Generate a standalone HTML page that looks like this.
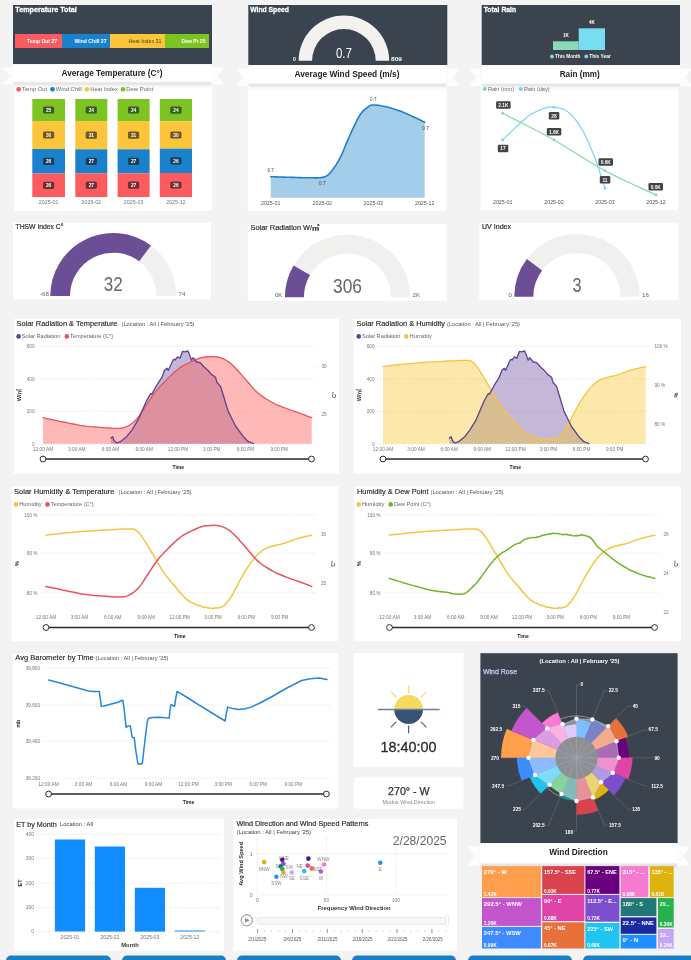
<!DOCTYPE html>
<html lang="en"><head><meta charset="utf-8"><title>Weather Dashboard</title>
<style>html,body{margin:0;padding:0;background:#f3f3f3;}body{width:691px;height:960px;overflow:hidden;font-family:"Liberation Sans", sans-serif;}svg text{font-family:"Liberation Sans","Noto Sans CJK JP",sans-serif;}</style>
</head><body>
<svg width="691" height="960" viewBox="0 0 691 960" font-family='"Liberation Sans", sans-serif' style="display:block"><rect x="0.0" y="0.0" width="691.0" height="960.0" fill="#f3f3f3" />
<defs><linearGradient id="sh" x1="0" y1="0" x2="0" y2="1"><stop offset="0" stop-color="#000" stop-opacity="0.015"/><stop offset="0.45" stop-color="#000" stop-opacity="0.07"/><stop offset="1" stop-color="#000" stop-opacity="0"/></linearGradient></defs>
<rect x="573.0" y="0.0" width="106.0" height="1.6" fill="#fbfbfb" />
<rect x="573.0" y="1.6" width="106.0" height="0.6" fill="#e9e9e9" />
<rect x="13.9" y="84.5" width="198.3" height="126.2" fill="#fff" />
<rect x="13.0" y="5.0" width="199.0" height="59.2" fill="#3a434e" />
<text x="15.3" y="12.0" font-size="7.8" fill="#fff" font-weight="bold" textLength="61.5" lengthAdjust="spacingAndGlyphs" stroke="#fff" stroke-width="0.3">Temperature Total</text>
<rect x="15.0" y="34.0" width="47.0" height="14.0" fill="#fc5c60" />
<rect x="62.0" y="34.0" width="48.0" height="14.0" fill="#1a81cc" />
<rect x="110.0" y="34.0" width="55.0" height="14.0" fill="#fdc53b" />
<rect x="165.0" y="34.0" width="44.0" height="14.0" fill="#7bc421" />
<text x="57.0" y="43.0" font-size="5.2" fill="#fff" font-weight="bold" text-anchor="end" textLength="30.0" lengthAdjust="spacingAndGlyphs">Temp Out 27</text>
<text x="106.5" y="43.0" font-size="5.2" fill="#fff" font-weight="bold" text-anchor="end" textLength="32.0" lengthAdjust="spacingAndGlyphs">Wind Chill 27</text>
<text x="161.5" y="43.0" font-size="5.2" fill="#4d4013" text-anchor="end" textLength="33.0" lengthAdjust="spacingAndGlyphs">Heat Index 31</text>
<text x="205.5" y="43.0" font-size="5.2" fill="#fff" font-weight="bold" text-anchor="end" textLength="24.0" lengthAdjust="spacingAndGlyphs">Dew Pt 25</text>
<polygon points="2.5,67.6 13.0,67.6 13.0,84.4 2.5,84.4 10.1,76.0" fill="#fdfdfd"/>
<polygon points="224.6,67.6 212.0,67.6 212.0,84.4 224.6,84.4 217.2,76.0" fill="#fdfdfd"/>
<rect x="13.9" y="80.7" width="197.2" height="1.5" fill="#fff" />
<rect x="13.9" y="81.2" width="197.2" height="7.0" fill="url(#sh)" />
<rect x="13.0" y="64.2" width="199.0" height="17.0" fill="#fff" />
<text x="112.0" y="75.8" font-size="9" fill="#222" font-weight="bold" text-anchor="middle" textLength="101.0" lengthAdjust="spacingAndGlyphs">Average Temperature (C°)</text>
<circle cx="18.7" cy="89.3" r="2.4" fill="#fc5c60"/>
<text x="22.0" y="91.2" font-size="5.6" fill="#666" textLength="25.0" lengthAdjust="spacingAndGlyphs">Temp Out</text>
<circle cx="52.5" cy="89.3" r="2.4" fill="#1a81cc"/>
<text x="55.8" y="91.2" font-size="5.6" fill="#666" textLength="26.0" lengthAdjust="spacingAndGlyphs">Wind Chill</text>
<circle cx="87" cy="89.3" r="2.4" fill="#fdc53b"/>
<text x="90.3" y="91.2" font-size="5.6" fill="#666" textLength="27.5" lengthAdjust="spacingAndGlyphs">Heat Index</text>
<circle cx="123" cy="89.3" r="2.4" fill="#7bc421"/>
<text x="126.3" y="91.2" font-size="5.6" fill="#666" textLength="27.0" lengthAdjust="spacingAndGlyphs">Dew Point</text>
<rect x="32.3" y="99.0" width="32.7" height="22.0" fill="#7bc421" />
<rect x="43.0" y="106.4" width="11.2" height="7.2" fill="#3d5a22" rx="1.5"/>
<text x="48.6" y="111.9" font-size="4.8" fill="#fff" font-weight="bold" text-anchor="middle">25</text>
<rect x="32.3" y="121.0" width="32.7" height="28.0" fill="#fdc53b" />
<rect x="43.0" y="131.4" width="11.2" height="7.2" fill="#6e5a1c" rx="1.5"/>
<text x="48.6" y="136.9" font-size="4.8" fill="#fff" font-weight="bold" text-anchor="middle">30</text>
<rect x="32.3" y="149.0" width="32.7" height="24.5" fill="#1a81cc" />
<rect x="43.0" y="157.7" width="11.2" height="7.2" fill="#1d3f5c" rx="1.5"/>
<text x="48.6" y="163.2" font-size="4.8" fill="#fff" font-weight="bold" text-anchor="middle">26</text>
<rect x="32.3" y="173.5" width="32.7" height="23.5" fill="#fc5c60" />
<rect x="43.0" y="181.7" width="11.2" height="7.2" fill="#6e3133" rx="1.5"/>
<text x="48.6" y="187.2" font-size="4.8" fill="#fff" font-weight="bold" text-anchor="middle">26</text>
<text x="48.6" y="204.0" font-size="5.2" fill="#777" text-anchor="middle" textLength="19.5" lengthAdjust="spacingAndGlyphs">2025-01</text>
<rect x="75.3" y="99.0" width="32.0" height="22.0" fill="#7bc421" />
<rect x="85.7" y="106.4" width="11.2" height="7.2" fill="#3d5a22" rx="1.5"/>
<text x="91.3" y="111.9" font-size="4.8" fill="#fff" font-weight="bold" text-anchor="middle">24</text>
<rect x="75.3" y="121.0" width="32.0" height="28.3" fill="#fdc53b" />
<rect x="85.7" y="131.6" width="11.2" height="7.2" fill="#6e5a1c" rx="1.5"/>
<text x="91.3" y="137.1" font-size="4.8" fill="#fff" font-weight="bold" text-anchor="middle">31</text>
<rect x="75.3" y="149.3" width="32.0" height="24.0" fill="#1a81cc" />
<rect x="85.7" y="157.7" width="11.2" height="7.2" fill="#1d3f5c" rx="1.5"/>
<text x="91.3" y="163.2" font-size="4.8" fill="#fff" font-weight="bold" text-anchor="middle">27</text>
<rect x="75.3" y="173.3" width="32.0" height="23.7" fill="#fc5c60" />
<rect x="85.7" y="181.6" width="11.2" height="7.2" fill="#6e3133" rx="1.5"/>
<text x="91.3" y="187.1" font-size="4.8" fill="#fff" font-weight="bold" text-anchor="middle">27</text>
<text x="91.3" y="204.0" font-size="5.2" fill="#777" text-anchor="middle" textLength="19.5" lengthAdjust="spacingAndGlyphs">2025-02</text>
<rect x="117.6" y="99.0" width="32.0" height="22.0" fill="#7bc421" />
<rect x="128.0" y="106.4" width="11.2" height="7.2" fill="#3d5a22" rx="1.5"/>
<text x="133.6" y="111.9" font-size="4.8" fill="#fff" font-weight="bold" text-anchor="middle">24</text>
<rect x="117.6" y="121.0" width="32.0" height="28.3" fill="#fdc53b" />
<rect x="128.0" y="131.6" width="11.2" height="7.2" fill="#6e5a1c" rx="1.5"/>
<text x="133.6" y="137.1" font-size="4.8" fill="#fff" font-weight="bold" text-anchor="middle">31</text>
<rect x="117.6" y="149.3" width="32.0" height="24.0" fill="#1a81cc" />
<rect x="128.0" y="157.7" width="11.2" height="7.2" fill="#1d3f5c" rx="1.5"/>
<text x="133.6" y="163.2" font-size="4.8" fill="#fff" font-weight="bold" text-anchor="middle">27</text>
<rect x="117.6" y="173.3" width="32.0" height="23.7" fill="#fc5c60" />
<rect x="128.0" y="181.6" width="11.2" height="7.2" fill="#6e3133" rx="1.5"/>
<text x="133.6" y="187.1" font-size="4.8" fill="#fff" font-weight="bold" text-anchor="middle">27</text>
<text x="133.6" y="204.0" font-size="5.2" fill="#777" text-anchor="middle" textLength="19.5" lengthAdjust="spacingAndGlyphs">2025-03</text>
<rect x="159.8" y="99.0" width="32.2" height="22.3" fill="#7bc421" />
<rect x="170.3" y="106.6" width="11.2" height="7.2" fill="#3d5a22" rx="1.5"/>
<text x="175.9" y="112.1" font-size="4.8" fill="#fff" font-weight="bold" text-anchor="middle">24</text>
<rect x="159.8" y="121.3" width="32.2" height="27.4" fill="#fdc53b" />
<rect x="170.3" y="131.4" width="11.2" height="7.2" fill="#6e5a1c" rx="1.5"/>
<text x="175.9" y="136.9" font-size="4.8" fill="#fff" font-weight="bold" text-anchor="middle">30</text>
<rect x="159.8" y="148.7" width="32.2" height="24.3" fill="#1a81cc" />
<rect x="170.3" y="157.2" width="11.2" height="7.2" fill="#1d3f5c" rx="1.5"/>
<text x="175.9" y="162.8" font-size="4.8" fill="#fff" font-weight="bold" text-anchor="middle">26</text>
<rect x="159.8" y="173.0" width="32.2" height="24.0" fill="#fc5c60" />
<rect x="170.3" y="181.4" width="11.2" height="7.2" fill="#6e3133" rx="1.5"/>
<text x="175.9" y="186.9" font-size="4.8" fill="#fff" font-weight="bold" text-anchor="middle">26</text>
<text x="175.9" y="204.0" font-size="5.2" fill="#777" text-anchor="middle" textLength="19.5" lengthAdjust="spacingAndGlyphs">2025-12</text>
<rect x="247.7" y="86.0" width="199.0" height="124.7" fill="#fff" />
<rect x="248.3" y="5.0" width="199.0" height="60.2" fill="#3a434e" />
<text x="250.3" y="12.0" font-size="7.8" fill="#fff" font-weight="bold" textLength="38.5" lengthAdjust="spacingAndGlyphs" stroke="#fff" stroke-width="0.3">Wind Speed</text>
<path d="M298.6,60.8 A45.3,45.3 0 0 1 389.2,60.8 L375.7,60.8 A31.8,31.8 0 0 0 312.1,60.8 Z" fill="#f3f2f1"/>
<path d="M298.6,60.8 A45.3,45.3 0 0 1 298.6,60.7 L312.1,60.7 A31.8,31.8 0 0 0 312.1,60.8 Z" fill="#f3f2f1"/>
<text x="343.9" y="58.2" font-size="14.3" fill="#fff" text-anchor="middle" textLength="16.0" lengthAdjust="spacingAndGlyphs">0.7</text>
<text x="296.0" y="61.2" font-size="5.2" fill="#fff" font-weight="bold" text-anchor="end">0</text>
<text x="391.0" y="61.2" font-size="5.2" fill="#fff" font-weight="bold" textLength="11.0" lengthAdjust="spacingAndGlyphs">809</text>
<polygon points="235.7,68.6 248.3,68.6 248.3,85.9 235.7,85.9 243.1,77.2" fill="#fdfdfd"/>
<polygon points="459.9,68.6 447.3,68.6 447.3,85.9 459.9,85.9 452.5,77.2" fill="#fdfdfd"/>
<rect x="249.2" y="82.2" width="197.2" height="1.5" fill="#fff" />
<rect x="249.2" y="82.7" width="197.2" height="7.0" fill="url(#sh)" />
<rect x="248.3" y="65.2" width="199.0" height="17.5" fill="#fff" />
<text x="347.0" y="76.5" font-size="9" fill="#222" font-weight="bold" text-anchor="middle" textLength="105.0" lengthAdjust="spacingAndGlyphs">Average Wind Speed (m/s)</text>
<path d="M270.7,176.7 L271.8,176.7 L273.3,176.8 L275.0,176.8 L277.0,176.9 L279.1,177.0 L281.3,177.0 L283.6,177.1 L285.8,177.2 L288.0,177.2 L290.0,177.3 L292.0,177.4 L294.1,177.4 L296.2,177.5 L298.3,177.6 L300.4,177.6 L302.5,177.7 L304.5,177.7 L306.5,177.8 L308.3,177.8 L310.0,177.8 L311.6,177.8 L313.0,177.8 L314.4,177.9 L315.7,177.9 L316.9,177.9 L318.1,177.9 L319.2,177.8 L320.3,177.8 L321.3,177.6 L322.3,177.4 L323.2,177.2 L324.1,176.9 L324.9,176.7 L325.6,176.4 L326.3,176.1 L327.0,175.7 L327.7,175.2 L328.4,174.6 L329.2,173.9 L330.0,173.0 L330.9,172.0 L331.9,170.8 L332.8,169.5 L333.8,168.1 L334.9,166.7 L335.9,165.1 L336.9,163.4 L338.0,161.7 L339.0,159.9 L340.0,158.0 L341.0,156.0 L342.0,153.9 L343.0,151.6 L344.0,149.2 L345.0,146.8 L346.0,144.4 L347.0,141.9 L348.0,139.5 L349.0,137.2 L350.0,135.0 L351.0,132.8 L352.0,130.6 L353.1,128.4 L354.1,126.2 L355.1,124.1 L356.1,122.0 L357.1,120.0 L358.1,118.2 L359.1,116.5 L360.0,115.0 L360.9,113.7 L361.8,112.5 L362.6,111.5 L363.5,110.6 L364.3,109.9 L365.1,109.2 L365.9,108.6 L366.6,108.0 L367.3,107.5 L368.0,107.0 L368.6,106.5 L369.1,106.2 L369.6,105.8 L370.0,105.6 L370.4,105.4 L370.8,105.3 L371.3,105.2 L371.9,105.1 L372.5,105.0 L373.3,105.0 L374.2,105.0 L375.2,105.0 L376.2,105.1 L377.4,105.2 L378.5,105.3 L379.8,105.5 L381.0,105.7 L382.3,106.0 L383.7,106.2 L385.0,106.5 L386.4,106.8 L387.8,107.2 L389.3,107.6 L390.8,108.0 L392.3,108.4 L393.8,108.9 L395.4,109.4 L396.9,109.9 L398.5,110.5 L400.0,111.0 L401.5,111.6 L403.1,112.2 L404.7,112.9 L406.3,113.5 L407.8,114.2 L409.4,114.9 L410.9,115.6 L412.3,116.3 L413.7,116.9 L415.0,117.5 L416.2,118.1 L417.4,118.6 L418.6,119.2 L419.7,119.8 L420.8,120.3 L421.8,120.8 L422.7,121.3 L423.5,121.7 L424.1,122.0 L424.7,122.3 L424.7,197.8 L270.7,197.8 Z" fill="#a4cdea" fill-opacity="1"/>
<path d="M270.7,176.7 L271.8,176.7 L273.3,176.8 L275.0,176.8 L277.0,176.9 L279.1,177.0 L281.3,177.0 L283.6,177.1 L285.8,177.2 L288.0,177.2 L290.0,177.3 L292.0,177.4 L294.1,177.4 L296.2,177.5 L298.3,177.6 L300.4,177.6 L302.5,177.7 L304.5,177.7 L306.5,177.8 L308.3,177.8 L310.0,177.8 L311.6,177.8 L313.0,177.8 L314.4,177.9 L315.7,177.9 L316.9,177.9 L318.1,177.9 L319.2,177.8 L320.3,177.8 L321.3,177.6 L322.3,177.4 L323.2,177.2 L324.1,176.9 L324.9,176.7 L325.6,176.4 L326.3,176.1 L327.0,175.7 L327.7,175.2 L328.4,174.6 L329.2,173.9 L330.0,173.0 L330.9,172.0 L331.9,170.8 L332.8,169.5 L333.8,168.1 L334.9,166.7 L335.9,165.1 L336.9,163.4 L338.0,161.7 L339.0,159.9 L340.0,158.0 L341.0,156.0 L342.0,153.9 L343.0,151.6 L344.0,149.2 L345.0,146.8 L346.0,144.4 L347.0,141.9 L348.0,139.5 L349.0,137.2 L350.0,135.0 L351.0,132.8 L352.0,130.6 L353.1,128.4 L354.1,126.2 L355.1,124.1 L356.1,122.0 L357.1,120.0 L358.1,118.2 L359.1,116.5 L360.0,115.0 L360.9,113.7 L361.8,112.5 L362.6,111.5 L363.5,110.6 L364.3,109.9 L365.1,109.2 L365.9,108.6 L366.6,108.0 L367.3,107.5 L368.0,107.0 L368.6,106.5 L369.1,106.2 L369.6,105.8 L370.0,105.6 L370.4,105.4 L370.8,105.3 L371.3,105.2 L371.9,105.1 L372.5,105.0 L373.3,105.0 L374.2,105.0 L375.2,105.0 L376.2,105.1 L377.4,105.2 L378.5,105.3 L379.8,105.5 L381.0,105.7 L382.3,106.0 L383.7,106.2 L385.0,106.5 L386.4,106.8 L387.8,107.2 L389.3,107.6 L390.8,108.0 L392.3,108.4 L393.8,108.9 L395.4,109.4 L396.9,109.9 L398.5,110.5 L400.0,111.0 L401.5,111.6 L403.1,112.2 L404.7,112.9 L406.3,113.5 L407.8,114.2 L409.4,114.9 L410.9,115.6 L412.3,116.3 L413.7,116.9 L415.0,117.5 L416.2,118.1 L417.4,118.6 L418.6,119.2 L419.7,119.8 L420.8,120.3 L421.8,120.8 L422.7,121.3 L423.5,121.7 L424.1,122.0 L424.7,122.3" fill="none" stroke="#1f7fc7" stroke-width="1.6" stroke-linejoin="round" stroke-linecap="round" />
<text x="270.7" y="205.2" font-size="5.2" fill="#555" text-anchor="middle" textLength="19.5" lengthAdjust="spacingAndGlyphs">2025-01</text>
<text x="322.3" y="205.2" font-size="5.2" fill="#555" text-anchor="middle" textLength="19.5" lengthAdjust="spacingAndGlyphs">2025-02</text>
<text x="373.3" y="205.2" font-size="5.2" fill="#555" text-anchor="middle" textLength="19.5" lengthAdjust="spacingAndGlyphs">2025-03</text>
<text x="424.7" y="205.2" font-size="5.2" fill="#555" text-anchor="middle" textLength="19.5" lengthAdjust="spacingAndGlyphs">2025-12</text>
<text x="270.7" y="172.0" font-size="4.6" fill="#444" text-anchor="middle">0.7</text>
<text x="322.3" y="185.0" font-size="4.6" fill="#444" text-anchor="middle">0.7</text>
<text x="373.3" y="101.0" font-size="4.6" fill="#444" text-anchor="middle">0.7</text>
<text x="425.5" y="129.5" font-size="4.6" fill="#444" text-anchor="middle">0.7</text>
<rect x="480.7" y="86.0" width="197.6" height="124.0" fill="#fff" />
<rect x="481.7" y="5.0" width="198.3" height="60.2" fill="#3a434e" />
<text x="483.7" y="12.0" font-size="7.8" fill="#fff" font-weight="bold" textLength="32.5" lengthAdjust="spacingAndGlyphs" stroke="#fff" stroke-width="0.3">Total Rain</text>
<rect x="553.0" y="41.3" width="25.7" height="8.7" fill="#8adbb3" />
<rect x="578.7" y="28.3" width="26.3" height="21.7" fill="#78dcf2" />
<text x="566.0" y="36.7" font-size="4.6" fill="#fff" font-weight="bold" text-anchor="middle">1K</text>
<text x="592.0" y="23.7" font-size="4.6" fill="#fff" font-weight="bold" text-anchor="middle">4K</text>
<circle cx="552" cy="56.5" r="2" fill="#86d8b0"/>
<text x="555.0" y="58.3" font-size="4.8" fill="#fff" font-weight="bold" textLength="25.5" lengthAdjust="spacingAndGlyphs">This Month</text>
<circle cx="586.3" cy="56.5" r="2" fill="#74d5ee"/>
<text x="589.3" y="58.3" font-size="4.8" fill="#fff" font-weight="bold" textLength="21.5" lengthAdjust="spacingAndGlyphs">This Year</text>
<polygon points="469.1,68.6 481.7,68.6 481.7,85.9 469.1,85.9 476.5,77.2" fill="#fdfdfd"/>
<polygon points="692.6,68.6 680.0,68.6 680.0,85.9 692.6,85.9 685.2,77.2" fill="#fdfdfd"/>
<rect x="482.6" y="82.2" width="196.5" height="1.5" fill="#fff" />
<rect x="482.6" y="82.7" width="196.5" height="7.0" fill="url(#sh)" />
<rect x="481.7" y="65.2" width="198.3" height="17.5" fill="#fff" />
<text x="579.7" y="76.5" font-size="9" fill="#222" font-weight="bold" text-anchor="middle" textLength="40.0" lengthAdjust="spacingAndGlyphs">Rain (mm)</text>
<circle cx="484.7" cy="89" r="2.1" fill="#86d8b0"/>
<text x="488.0" y="90.9" font-size="5.6" fill="#666" textLength="26.0" lengthAdjust="spacingAndGlyphs">Rain (mm)</text>
<circle cx="520.7" cy="89" r="2.1" fill="#74d5ee"/>
<text x="524.0" y="90.9" font-size="5.6" fill="#666" textLength="25.5" lengthAdjust="spacingAndGlyphs">Rain (day)</text>
<path d="M502.7,113.3 L508.3,116.2 L516.0,120.1 L525.2,124.7 L535.0,129.8 L544.9,135.0 L554.0,140.0 L562.5,145.0 L571.0,150.2 L579.5,155.5 L588.0,160.8 L596.5,165.9 L605.0,170.7 L614.1,175.4 L623.9,180.2 L633.7,184.8 L642.8,188.9 L650.5,192.4 L656.0,195.0" fill="none" stroke="#86d8b0" stroke-width="1.2" stroke-linejoin="round" stroke-linecap="round" />
<path d="M502.7,140.0 L503.6,139.1 L504.8,137.9 L506.3,136.4 L507.9,134.8 L509.6,133.1 L511.4,131.4 L513.2,129.6 L515.0,128.0 L516.7,126.4 L518.6,124.7 L520.4,122.9 L522.3,121.2 L524.3,119.5 L526.2,117.9 L528.1,116.3 L530.0,115.0 L531.9,113.8 L533.9,112.7 L535.9,111.7 L537.9,110.7 L539.8,109.9 L541.7,109.2 L543.4,108.5 L545.0,108.0 L546.4,107.6 L547.6,107.3 L548.7,107.1 L549.8,107.0 L550.7,107.0 L551.8,107.1 L552.8,107.2 L554.0,107.3 L555.3,107.4 L556.6,107.6 L558.0,107.8 L559.4,108.0 L560.9,108.4 L562.3,108.8 L563.7,109.3 L565.0,110.0 L566.3,110.8 L567.6,111.6 L568.8,112.6 L570.1,113.7 L571.3,114.8 L572.5,116.1 L573.8,117.5 L575.0,119.0 L576.2,120.6 L577.5,122.3 L578.8,124.2 L580.0,126.1 L581.2,128.2 L582.5,130.3 L583.8,132.6 L585.0,135.0 L586.3,137.6 L587.6,140.4 L588.9,143.3 L590.2,146.4 L591.5,149.4 L592.8,152.4 L593.9,155.3 L595.0,158.0 L596.0,160.5 L596.8,163.0 L597.6,165.4 L598.4,167.7 L599.1,169.9 L599.7,172.0 L600.4,174.1 L601.0,176.0 L601.6,177.9 L602.2,179.8 L602.8,181.6 L603.4,183.3 L603.9,184.8 L604.3,186.2 L604.7,187.4 L605.0,188.3" fill="none" stroke="#74d5ee" stroke-width="1.2" stroke-linejoin="round" stroke-linecap="round" />
<circle cx="502.7" cy="113.3" r="1.4" fill="#86d8b0"/>
<circle cx="554" cy="140" r="1.4" fill="#86d8b0"/>
<circle cx="605" cy="170.7" r="1.4" fill="#86d8b0"/>
<circle cx="656" cy="195" r="1.4" fill="#86d8b0"/>
<circle cx="502.7" cy="140" r="1.4" fill="#74d5ee"/>
<circle cx="554" cy="107.3" r="1.4" fill="#74d5ee"/>
<circle cx="605" cy="188.3" r="1.4" fill="#74d5ee"/>
<rect x="496.1" y="101.2" width="14.5" height="7.6" fill="#444" rx="1.3"/>
<text x="503.3" y="106.8" font-size="4.8" fill="#fff" font-weight="bold" text-anchor="middle">2.1K</text>
<rect x="497.8" y="144.7" width="10.5" height="7.6" fill="#444" rx="1.3"/>
<text x="503.0" y="150.3" font-size="4.8" fill="#fff" font-weight="bold" text-anchor="middle">17</text>
<rect x="548.8" y="111.9" width="10.5" height="7.6" fill="#444" rx="1.3"/>
<text x="554.0" y="117.5" font-size="4.8" fill="#fff" font-weight="bold" text-anchor="middle">28</text>
<rect x="546.8" y="127.9" width="14.5" height="7.6" fill="#444" rx="1.3"/>
<text x="554.0" y="133.5" font-size="4.8" fill="#fff" font-weight="bold" text-anchor="middle">1.6K</text>
<rect x="598.5" y="158.2" width="14.5" height="7.6" fill="#444" rx="1.3"/>
<text x="605.7" y="163.8" font-size="4.8" fill="#fff" font-weight="bold" text-anchor="middle">0.6K</text>
<rect x="599.8" y="175.9" width="10.5" height="7.6" fill="#444" rx="1.3"/>
<text x="605.0" y="181.5" font-size="4.8" fill="#fff" font-weight="bold" text-anchor="middle">11</text>
<rect x="648.5" y="182.9" width="14.5" height="7.6" fill="#444" rx="1.3"/>
<text x="655.7" y="188.5" font-size="4.8" fill="#fff" font-weight="bold" text-anchor="middle">0.0K</text>
<text x="502.7" y="203.6" font-size="5.2" fill="#555" text-anchor="middle" textLength="19.5" lengthAdjust="spacingAndGlyphs">2025-01</text>
<text x="554.0" y="203.6" font-size="5.2" fill="#555" text-anchor="middle" textLength="19.5" lengthAdjust="spacingAndGlyphs">2025-02</text>
<text x="605.0" y="203.6" font-size="5.2" fill="#555" text-anchor="middle" textLength="19.5" lengthAdjust="spacingAndGlyphs">2025-03</text>
<text x="656.0" y="203.6" font-size="5.2" fill="#555" text-anchor="middle" textLength="19.5" lengthAdjust="spacingAndGlyphs">2025-12</text>
<rect x="13.0" y="222.7" width="198.0" height="76.6" fill="#fff" />
<text x="15.5" y="229.3" font-size="6.6" fill="#333" textLength="48.0" lengthAdjust="spacingAndGlyphs" stroke="#333" stroke-width="0.2">THSW Index C°</text>
<path d="M50.3,296.0 A63,63 0 0 1 176.3,296.0 L156.6,296.0 A43.3,43.3 0 0 0 70.0,296.0 Z" fill="#f1f0ef"/>
<path d="M50.3,296.0 A63,63 0 0 1 151.0,245.5 L139.2,261.3 A43.3,43.3 0 0 0 70.0,296.0 Z" fill="#6b4e96"/>
<text x="113.3" y="291.2" font-size="19.8" fill="#666" text-anchor="middle" textLength="19.0" lengthAdjust="spacingAndGlyphs">32</text>
<text x="49.0" y="296.0" font-size="6.2" fill="#666" text-anchor="end">-68</text>
<text x="178.5" y="296.0" font-size="6.2" fill="#666">74</text>
<rect x="247.7" y="224.0" width="199.0" height="76.7" fill="#fff" />
<text x="250.5" y="230.2" font-size="6.6" fill="#333" stroke="#333" stroke-width="0.2" textLength="69" lengthAdjust="spacingAndGlyphs">Solar Radiation W/<tspan font-weight="bold">㎡</tspan></text>
<path d="M284.9,297.3 A62.6,62.6 0 0 1 410.1,297.3 L391.1,297.3 A43.6,43.6 0 0 0 303.9,297.3 Z" fill="#f1f0ef"/>
<path d="M284.9,297.3 A62.6,62.6 0 0 1 293.6,265.4 L310.0,275.1 A43.6,43.6 0 0 0 303.9,297.3 Z" fill="#6b4e96"/>
<text x="347.5" y="292.7" font-size="19.8" fill="#666" text-anchor="middle" textLength="29.0" lengthAdjust="spacingAndGlyphs">306</text>
<text x="282.5" y="297.2" font-size="6.2" fill="#666" text-anchor="end">0K</text>
<text x="412.5" y="297.2" font-size="6.2" fill="#666">2K</text>
<rect x="479.3" y="222.7" width="199.0" height="77.3" fill="#fff" />
<text x="482.0" y="229.2" font-size="6.6" fill="#333" textLength="29.0" lengthAdjust="spacingAndGlyphs" stroke="#333" stroke-width="0.2">UV Index</text>
<path d="M514.3,296.7 A62.7,62.7 0 0 1 639.7,296.7 L620.7,296.7 A43.7,43.7 0 0 0 533.3,296.7 Z" fill="#f1f0ef"/>
<path d="M514.3,296.7 A62.7,62.7 0 0 1 526.9,259.1 L542.1,270.5 A43.7,43.7 0 0 0 533.3,296.7 Z" fill="#6b4e96"/>
<text x="577.0" y="291.7" font-size="19.8" fill="#666" text-anchor="middle" textLength="9.0" lengthAdjust="spacingAndGlyphs">3</text>
<text x="512.0" y="296.6" font-size="6.2" fill="#666" text-anchor="end">0</text>
<text x="642.0" y="296.6" font-size="6.2" fill="#666">16</text>
<rect x="13.9" y="319.0" width="325.1" height="154.4" fill="#fff" />
<text x="16.5" y="326.0" font-size="7.4" fill="#262626" textLength="101.0" lengthAdjust="spacingAndGlyphs" stroke="#262626" stroke-width="0.14">Solar Radiation &amp; Temperature</text>
<text x="121.5" y="326.0" font-size="5.2" fill="#555" textLength="73.0" lengthAdjust="spacingAndGlyphs">(Location : All | February '25)</text>
<text x="43.0" y="451.3" font-size="4.8" fill="#777" text-anchor="middle" textLength="20.5" lengthAdjust="spacingAndGlyphs">12:00 AM</text>
<text x="76.8" y="451.3" font-size="4.8" fill="#777" text-anchor="middle" textLength="17.5" lengthAdjust="spacingAndGlyphs">3:00 AM</text>
<text x="110.5" y="451.3" font-size="4.8" fill="#777" text-anchor="middle" textLength="17.5" lengthAdjust="spacingAndGlyphs">6:00 AM</text>
<text x="144.2" y="451.3" font-size="4.8" fill="#777" text-anchor="middle" textLength="17.5" lengthAdjust="spacingAndGlyphs">9:00 AM</text>
<text x="178.0" y="451.3" font-size="4.8" fill="#777" text-anchor="middle" textLength="20.5" lengthAdjust="spacingAndGlyphs">12:00 PM</text>
<text x="211.8" y="451.3" font-size="4.8" fill="#777" text-anchor="middle" textLength="17.5" lengthAdjust="spacingAndGlyphs">3:00 PM</text>
<text x="245.5" y="451.3" font-size="4.8" fill="#777" text-anchor="middle" textLength="17.5" lengthAdjust="spacingAndGlyphs">6:00 PM</text>
<text x="279.2" y="451.3" font-size="4.8" fill="#777" text-anchor="middle" textLength="17.5" lengthAdjust="spacingAndGlyphs">9:00 PM</text>
<line x1="43.0" y1="459.0" x2="311.5" y2="459.0" stroke="#2a2a2a" stroke-width="1.6"/>
<circle cx="43.0" cy="459.0" r="2.9" fill="#fff" stroke="#2a2a2a" stroke-width="1"/>
<circle cx="311.5" cy="459.0" r="2.9" fill="#fff" stroke="#2a2a2a" stroke-width="1"/>
<text x="178.2" y="468.8" font-size="5.4" fill="#222" font-weight="bold" text-anchor="middle" textLength="11.5" lengthAdjust="spacingAndGlyphs">Time</text>
<circle cx="18.6" cy="336.4" r="2.3" fill="#5e4291"/>
<text x="21.8" y="338.2" font-size="5" fill="#666" textLength="38.5" lengthAdjust="spacingAndGlyphs">Solar Radiation</text>
<circle cx="66.8" cy="336.4" r="2.3" fill="#ea535c"/>
<text x="70.0" y="338.2" font-size="5" fill="#666" textLength="43.0" lengthAdjust="spacingAndGlyphs">Temperature (C°)</text>
<line x1="37.0" y1="346.3" x2="316.0" y2="346.3" stroke="#c8c8c8" stroke-width="0.7" stroke-dasharray="0.8 2"/>
<text x="34.5" y="348.0" font-size="4.7" fill="#777" text-anchor="end">600</text>
<line x1="37.0" y1="379.0" x2="316.0" y2="379.0" stroke="#c8c8c8" stroke-width="0.7" stroke-dasharray="0.8 2"/>
<text x="34.5" y="380.7" font-size="4.7" fill="#777" text-anchor="end">400</text>
<line x1="37.0" y1="411.4" x2="316.0" y2="411.4" stroke="#c8c8c8" stroke-width="0.7" stroke-dasharray="0.8 2"/>
<text x="34.5" y="413.1" font-size="4.7" fill="#777" text-anchor="end">200</text>
<line x1="37.0" y1="443.8" x2="316.0" y2="443.8" stroke="#c8c8c8" stroke-width="0.7" stroke-dasharray="0.8 2"/>
<text x="34.5" y="445.5" font-size="4.7" fill="#777" text-anchor="end">0</text>
<text x="321.5" y="367.7" font-size="4.7" fill="#777">30</text>
<line x1="313" y1="366" x2="317" y2="366" stroke="#c8c8c8" stroke-width="0.7" stroke-dasharray="0.8 2"/>
<text x="321.5" y="416.3" font-size="4.7" fill="#777">25</text>
<line x1="313" y1="414.6" x2="317" y2="414.6" stroke="#c8c8c8" stroke-width="0.7" stroke-dasharray="0.8 2"/>
<text transform="translate(20.8,395.0) rotate(-90)" font-size="5.6" fill="#333" text-anchor="middle" font-weight="bold">W/㎡</text>
<text transform="translate(335.5,395.0) rotate(-90)" font-size="5.4" fill="#333" text-anchor="middle" font-weight="bold">C°</text>
<path d="M110.9,438.0 L112.7,436.7 L114.0,440.5 L116.5,443.0 L120.3,441.7 L126.6,436.7 L131.7,430.3 L138.0,420.2 L141.8,411.4 L146.9,400.0 L150.7,393.6 L151.9,394.1 L157.0,384.8 L162.0,377.2 L164.6,370.3 L167.1,368.3 L168.4,370.3 L172.2,362.0 L173.5,359.4 L175.0,360.0 L177.5,356.9 L180.0,358.2 L182.6,351.3 L185.1,351.8 L187.7,350.8 L188.9,353.1 L191.5,360.2 L193.2,357.7 L196.5,362.0 L200.3,362.7 L204.1,367.0 L207.9,370.3 L211.7,374.6 L215.5,377.2 L216.8,382.2 L220.6,386.5 L224.4,398.7 L228.2,411.4 L235.8,426.5 L243.4,436.7 L248.4,441.7 L253.5,443.5 L253.5,443.8 L110.9,443.8 Z" fill="#6b4c9a" fill-opacity="0.4"/>
<path d="M43.0,417.7 L45.2,418.2 L48.3,418.8 L51.9,419.6 L55.8,420.4 L59.7,421.3 L63.3,422.0 L66.7,422.7 L70.0,423.4 L73.3,424.0 L76.6,424.7 L80.1,425.3 L83.6,425.8 L87.4,426.3 L91.3,426.7 L95.4,427.0 L99.4,427.3 L103.1,427.6 L106.4,427.8 L109.3,428.0 L111.9,428.2 L114.2,428.4 L116.4,428.4 L118.4,428.4 L120.3,428.3 L122.1,428.0 L123.7,427.7 L125.1,427.2 L126.4,426.7 L127.8,426.0 L129.1,425.3 L130.5,424.5 L131.8,423.5 L133.1,422.4 L134.4,421.3 L135.6,420.2 L136.7,419.0 L137.7,417.9 L138.5,416.9 L139.2,415.9 L140.0,414.7 L141.0,413.2 L142.3,411.3 L144.0,408.8 L145.9,405.8 L148.0,402.5 L150.3,399.1 L152.5,395.8 L154.6,392.9 L156.7,390.3 L158.7,387.9 L160.8,385.7 L162.8,383.5 L164.8,381.5 L166.9,379.4 L169.0,377.4 L171.0,375.4 L173.1,373.4 L175.1,371.6 L177.2,369.9 L179.2,368.3 L181.3,366.9 L183.4,365.6 L185.5,364.5 L187.6,363.5 L189.6,362.5 L191.5,361.6 L193.3,360.8 L195.1,360.0 L196.8,359.3 L198.4,358.7 L199.9,358.1 L201.3,357.7 L202.6,357.4 L203.7,357.2 L204.8,357.1 L205.8,357.0 L206.8,357.0 L208.0,356.9 L209.3,356.8 L210.6,356.7 L211.9,356.6 L213.2,356.6 L214.6,356.7 L216.0,356.8 L217.4,357.0 L218.8,357.3 L220.2,357.7 L221.6,358.2 L223.1,358.7 L224.5,359.4 L225.9,360.2 L227.3,361.0 L228.7,361.9 L230.1,363.0 L231.6,364.3 L233.3,365.8 L235.1,367.7 L237.1,369.8 L239.2,372.2 L241.4,374.6 L243.5,377.1 L245.6,379.4 L247.6,381.7 L249.6,384.0 L251.6,386.4 L253.6,388.7 L255.7,390.9 L257.9,392.9 L260.2,394.8 L262.7,396.6 L265.1,398.3 L267.7,399.8 L270.2,401.3 L272.7,402.7 L275.2,404.0 L277.7,405.1 L280.2,406.1 L282.7,407.1 L285.1,408.0 L287.4,408.9 L289.6,409.7 L291.8,410.5 L293.9,411.2 L295.9,411.9 L298.0,412.6 L300.0,413.3 L302.1,414.1 L304.4,414.9 L306.6,415.8 L308.7,416.6 L310.4,417.2 L311.7,417.7 L311.7,443.8 L43.0,443.8 Z" fill="#fd625e" fill-opacity="0.45"/>
<path d="M43.0,417.7 L45.2,418.2 L48.3,418.8 L51.9,419.6 L55.8,420.4 L59.7,421.3 L63.3,422.0 L66.7,422.7 L70.0,423.4 L73.3,424.0 L76.6,424.7 L80.1,425.3 L83.6,425.8 L87.4,426.3 L91.3,426.7 L95.4,427.0 L99.4,427.3 L103.1,427.6 L106.4,427.8 L109.3,428.0 L111.9,428.2 L114.2,428.4 L116.4,428.4 L118.4,428.4 L120.3,428.3 L122.1,428.0 L123.7,427.7 L125.1,427.2 L126.4,426.7 L127.8,426.0 L129.1,425.3 L130.5,424.5 L131.8,423.5 L133.1,422.4 L134.4,421.3 L135.6,420.2 L136.7,419.0 L137.7,417.9 L138.5,416.9 L139.2,415.9 L140.0,414.7 L141.0,413.2 L142.3,411.3 L144.0,408.8 L145.9,405.8 L148.0,402.5 L150.3,399.1 L152.5,395.8 L154.6,392.9 L156.7,390.3 L158.7,387.9 L160.8,385.7 L162.8,383.5 L164.8,381.5 L166.9,379.4 L169.0,377.4 L171.0,375.4 L173.1,373.4 L175.1,371.6 L177.2,369.9 L179.2,368.3 L181.3,366.9 L183.4,365.6 L185.5,364.5 L187.6,363.5 L189.6,362.5 L191.5,361.6 L193.3,360.8 L195.1,360.0 L196.8,359.3 L198.4,358.7 L199.9,358.1 L201.3,357.7 L202.6,357.4 L203.7,357.2 L204.8,357.1 L205.8,357.0 L206.8,357.0 L208.0,356.9 L209.3,356.8 L210.6,356.7 L211.9,356.6 L213.2,356.6 L214.6,356.7 L216.0,356.8 L217.4,357.0 L218.8,357.3 L220.2,357.7 L221.6,358.2 L223.1,358.7 L224.5,359.4 L225.9,360.2 L227.3,361.0 L228.7,361.9 L230.1,363.0 L231.6,364.3 L233.3,365.8 L235.1,367.7 L237.1,369.8 L239.2,372.2 L241.4,374.6 L243.5,377.1 L245.6,379.4 L247.6,381.7 L249.6,384.0 L251.6,386.4 L253.6,388.7 L255.7,390.9 L257.9,392.9 L260.2,394.8 L262.7,396.6 L265.1,398.3 L267.7,399.8 L270.2,401.3 L272.7,402.7 L275.2,404.0 L277.7,405.1 L280.2,406.1 L282.7,407.1 L285.1,408.0 L287.4,408.9 L289.6,409.7 L291.8,410.5 L293.9,411.2 L295.9,411.9 L298.0,412.6 L300.0,413.3 L302.1,414.1 L304.4,414.9 L306.6,415.8 L308.7,416.6 L310.4,417.2 L311.7,417.7" fill="none" stroke="#ea535c" stroke-width="1.3" stroke-linejoin="round" stroke-linecap="round" />
<path d="M110.9,438.0 L112.7,436.7 L114.0,440.5 L116.5,443.0 L120.3,441.7 L126.6,436.7 L131.7,430.3 L138.0,420.2 L141.8,411.4 L146.9,400.0 L150.7,393.6 L151.9,394.1 L157.0,384.8 L162.0,377.2 L164.6,370.3 L167.1,368.3 L168.4,370.3 L172.2,362.0 L173.5,359.4 L175.0,360.0 L177.5,356.9 L180.0,358.2 L182.6,351.3 L185.1,351.8 L187.7,350.8 L188.9,353.1 L191.5,360.2 L193.2,357.7 L196.5,362.0 L200.3,362.7 L204.1,367.0 L207.9,370.3 L211.7,374.6 L215.5,377.2 L216.8,382.2 L220.6,386.5 L224.4,398.7 L228.2,411.4 L235.8,426.5 L243.4,436.7 L248.4,441.7 L253.5,443.5" fill="none" stroke="#5e4291" stroke-width="1.3" stroke-linejoin="round" stroke-linecap="round" />
<rect x="353.9" y="319.0" width="327.1" height="154.4" fill="#fff" />
<text x="356.5" y="326.0" font-size="7.4" fill="#262626" textLength="88.5" lengthAdjust="spacingAndGlyphs" stroke="#262626" stroke-width="0.14">Solar Radiation &amp; Humidity</text>
<text x="447.0" y="326.0" font-size="5.2" fill="#555" textLength="73.0" lengthAdjust="spacingAndGlyphs">(Location : All | February '25)</text>
<text x="383.0" y="451.3" font-size="4.8" fill="#777" text-anchor="middle" textLength="20.5" lengthAdjust="spacingAndGlyphs">12:00 AM</text>
<text x="416.1" y="451.3" font-size="4.8" fill="#777" text-anchor="middle" textLength="17.5" lengthAdjust="spacingAndGlyphs">3:00 AM</text>
<text x="449.2" y="451.3" font-size="4.8" fill="#777" text-anchor="middle" textLength="17.5" lengthAdjust="spacingAndGlyphs">6:00 AM</text>
<text x="482.3" y="451.3" font-size="4.8" fill="#777" text-anchor="middle" textLength="17.5" lengthAdjust="spacingAndGlyphs">9:00 AM</text>
<text x="515.4" y="451.3" font-size="4.8" fill="#777" text-anchor="middle" textLength="20.5" lengthAdjust="spacingAndGlyphs">12:00 PM</text>
<text x="548.5" y="451.3" font-size="4.8" fill="#777" text-anchor="middle" textLength="17.5" lengthAdjust="spacingAndGlyphs">3:00 PM</text>
<text x="581.6" y="451.3" font-size="4.8" fill="#777" text-anchor="middle" textLength="17.5" lengthAdjust="spacingAndGlyphs">6:00 PM</text>
<text x="614.7" y="451.3" font-size="4.8" fill="#777" text-anchor="middle" textLength="17.5" lengthAdjust="spacingAndGlyphs">9:00 PM</text>
<line x1="383.0" y1="459.0" x2="645.5" y2="459.0" stroke="#2a2a2a" stroke-width="1.6"/>
<circle cx="383.0" cy="459.0" r="2.9" fill="#fff" stroke="#2a2a2a" stroke-width="1"/>
<circle cx="645.5" cy="459.0" r="2.9" fill="#fff" stroke="#2a2a2a" stroke-width="1"/>
<text x="515.2" y="468.8" font-size="5.4" fill="#222" font-weight="bold" text-anchor="middle" textLength="11.5" lengthAdjust="spacingAndGlyphs">Time</text>
<circle cx="358.7" cy="336.4" r="2.3" fill="#5e4291"/>
<text x="361.9" y="338.2" font-size="5" fill="#666" textLength="38.5" lengthAdjust="spacingAndGlyphs">Solar Radiation</text>
<circle cx="406.3" cy="336.4" r="2.3" fill="#f4c542"/>
<text x="409.5" y="338.2" font-size="5" fill="#666" textLength="22.5" lengthAdjust="spacingAndGlyphs">Humidity</text>
<line x1="377.0" y1="346.3" x2="650.0" y2="346.3" stroke="#c8c8c8" stroke-width="0.7" stroke-dasharray="0.8 2"/>
<text x="374.5" y="348.0" font-size="4.7" fill="#777" text-anchor="end">600</text>
<line x1="377.0" y1="379.0" x2="650.0" y2="379.0" stroke="#c8c8c8" stroke-width="0.7" stroke-dasharray="0.8 2"/>
<text x="374.5" y="380.7" font-size="4.7" fill="#777" text-anchor="end">400</text>
<line x1="377.0" y1="411.4" x2="650.0" y2="411.4" stroke="#c8c8c8" stroke-width="0.7" stroke-dasharray="0.8 2"/>
<text x="374.5" y="413.1" font-size="4.7" fill="#777" text-anchor="end">200</text>
<line x1="377.0" y1="443.8" x2="650.0" y2="443.8" stroke="#c8c8c8" stroke-width="0.7" stroke-dasharray="0.8 2"/>
<text x="374.5" y="445.5" font-size="4.7" fill="#777" text-anchor="end">0</text>
<text x="654.5" y="348.0" font-size="4.7" fill="#777">100 %</text>
<text x="654.5" y="386.7" font-size="4.7" fill="#777">90 %</text>
<text x="654.5" y="426.0" font-size="4.7" fill="#777">80 %</text>
<text transform="translate(360.8,395.0) rotate(-90)" font-size="5.6" fill="#333" text-anchor="middle" font-weight="bold">W/㎡</text>
<text transform="translate(677.5,395.0) rotate(-90)" font-size="5.4" fill="#333" text-anchor="middle" font-weight="bold">%</text>
<path d="M449.4,438.0 L451.1,436.7 L452.4,440.5 L454.9,443.0 L458.6,441.7 L464.7,436.7 L469.7,430.3 L475.9,420.2 L479.6,411.4 L484.6,400.0 L488.3,393.6 L489.5,394.1 L494.5,384.8 L499.3,377.2 L501.9,370.3 L504.3,368.3 L505.6,370.3 L509.3,362.0 L510.6,359.4 L512.1,360.0 L514.5,356.9 L516.9,358.2 L519.5,351.3 L521.9,351.8 L524.5,350.8 L525.6,353.1 L528.2,360.2 L529.8,357.7 L533.1,362.0 L536.8,362.7 L540.5,367.0 L544.2,370.3 L547.9,374.6 L551.6,377.2 L552.9,382.2 L556.6,386.5 L560.3,398.7 L564.1,411.4 L571.5,426.5 L578.9,436.7 L583.8,441.7 L588.8,443.5 L588.8,443.8 L449.4,443.8 Z" fill="#6b4c9a" fill-opacity="0.4"/>
<path d="M383.0,366.4 L386.2,366.1 L390.7,365.6 L396.0,365.0 L401.6,364.4 L407.4,363.8 L412.7,363.3 L417.7,362.9 L422.9,362.5 L428.1,362.2 L433.2,361.9 L438.1,361.6 L442.7,361.3 L447.2,361.0 L451.7,360.8 L456.1,360.6 L460.1,360.4 L463.6,360.3 L466.4,360.3 L468.5,360.4 L469.9,360.6 L470.7,360.8 L471.3,361.1 L471.9,361.6 L472.7,362.1 L473.6,362.7 L474.4,363.4 L475.1,364.2 L475.9,365.1 L476.7,366.3 L477.7,367.6 L478.8,369.2 L480.0,371.2 L481.3,373.2 L482.6,375.4 L484.0,377.7 L485.2,379.8 L486.5,381.9 L487.7,384.0 L489.0,386.1 L490.2,388.3 L491.5,390.4 L492.7,392.5 L494.0,394.6 L495.1,396.7 L496.3,398.8 L497.6,400.9 L498.8,403.0 L500.3,405.1 L501.8,407.2 L503.6,409.4 L505.4,411.6 L507.2,413.7 L509.0,415.7 L510.5,417.6 L512.0,419.3 L513.3,421.0 L514.5,422.5 L515.7,423.9 L516.8,425.3 L518.1,426.6 L519.3,427.8 L520.5,429.0 L521.7,430.1 L522.9,431.1 L524.2,432.1 L525.6,433.0 L527.1,433.9 L528.8,434.7 L530.6,435.4 L532.3,436.1 L534.0,436.7 L535.6,437.3 L537.0,437.8 L538.3,438.2 L539.6,438.6 L540.8,438.7 L542.0,439.1 L543.1,439.0 L544.0,439.5 L544.8,439.7 L545.6,439.6 L546.3,439.2 L547.2,439.6 L548.1,439.6 L549.3,439.5 L550.5,439.3 L551.9,439.3 L553.2,438.7 L554.5,438.9 L555.6,438.6 L556.6,438.3 L557.4,437.5 L558.2,437.5 L558.9,437.0 L559.7,436.4 L560.6,435.1 L561.5,434.4 L562.5,432.8 L563.5,431.9 L564.6,430.3 L565.7,428.6 L566.9,426.9 L568.2,424.3 L569.7,421.2 L571.2,418.6 L572.7,415.4 L574.2,412.8 L575.6,410.2 L576.9,407.8 L578.2,405.6 L579.4,403.5 L580.7,401.4 L581.9,399.4 L583.1,397.5 L584.4,395.6 L585.6,393.8 L586.9,392.1 L588.1,390.4 L589.4,388.8 L590.6,387.4 L591.9,386.1 L593.1,384.9 L594.4,383.8 L595.6,382.8 L596.9,381.9 L598.1,381.1 L599.3,380.4 L600.5,379.8 L601.6,379.2 L602.8,378.8 L604.1,378.3 L605.7,377.8 L607.5,377.3 L609.5,376.8 L611.6,376.3 L613.8,375.8 L616.1,375.3 L618.2,374.7 L620.3,374.0 L622.5,373.2 L624.6,372.4 L626.7,371.6 L628.7,370.9 L630.7,370.2 L632.5,369.6 L634.4,369.1 L636.2,368.7 L637.9,368.3 L639.4,367.9 L640.8,367.6 L641.9,367.3 L643.0,367.1 L643.9,366.9 L644.6,366.8 L645.2,366.7 L645.7,366.6 L645.7,443.8 L383.0,443.8 Z" fill="#f7c52a" fill-opacity="0.4"/>
<path d="M383.0,366.4 L386.2,366.1 L390.7,365.6 L396.0,365.0 L401.6,364.4 L407.4,363.8 L412.7,363.3 L417.7,362.9 L422.9,362.5 L428.1,362.2 L433.2,361.9 L438.1,361.6 L442.7,361.3 L447.2,361.0 L451.7,360.8 L456.1,360.6 L460.1,360.4 L463.6,360.3 L466.4,360.3 L468.5,360.4 L469.9,360.6 L470.7,360.8 L471.3,361.1 L471.9,361.6 L472.7,362.1 L473.6,362.7 L474.4,363.4 L475.1,364.2 L475.9,365.1 L476.7,366.3 L477.7,367.6 L478.8,369.2 L480.0,371.2 L481.3,373.2 L482.6,375.4 L484.0,377.7 L485.2,379.8 L486.5,381.9 L487.7,384.0 L489.0,386.1 L490.2,388.3 L491.5,390.4 L492.7,392.5 L494.0,394.6 L495.1,396.7 L496.3,398.8 L497.6,400.9 L498.8,403.0 L500.3,405.1 L501.8,407.2 L503.6,409.4 L505.4,411.6 L507.2,413.7 L509.0,415.7 L510.5,417.6 L512.0,419.3 L513.3,421.0 L514.5,422.5 L515.7,423.9 L516.8,425.3 L518.1,426.6 L519.3,427.8 L520.5,429.0 L521.7,430.1 L522.9,431.1 L524.2,432.1 L525.6,433.0 L527.1,433.9 L528.8,434.7 L530.6,435.4 L532.3,436.1 L534.0,436.7 L535.6,437.3 L537.0,437.8 L538.3,438.2 L539.6,438.6 L540.8,438.7 L542.0,439.1 L543.1,439.0 L544.0,439.5 L544.8,439.7 L545.6,439.6 L546.3,439.2 L547.2,439.6 L548.1,439.6 L549.3,439.5 L550.5,439.3 L551.9,439.3 L553.2,438.7 L554.5,438.9 L555.6,438.6 L556.6,438.3 L557.4,437.5 L558.2,437.5 L558.9,437.0 L559.7,436.4 L560.6,435.1 L561.5,434.4 L562.5,432.8 L563.5,431.9 L564.6,430.3 L565.7,428.6 L566.9,426.9 L568.2,424.3 L569.7,421.2 L571.2,418.6 L572.7,415.4 L574.2,412.8 L575.6,410.2 L576.9,407.8 L578.2,405.6 L579.4,403.5 L580.7,401.4 L581.9,399.4 L583.1,397.5 L584.4,395.6 L585.6,393.8 L586.9,392.1 L588.1,390.4 L589.4,388.8 L590.6,387.4 L591.9,386.1 L593.1,384.9 L594.4,383.8 L595.6,382.8 L596.9,381.9 L598.1,381.1 L599.3,380.4 L600.5,379.8 L601.6,379.2 L602.8,378.8 L604.1,378.3 L605.7,377.8 L607.5,377.3 L609.5,376.8 L611.6,376.3 L613.8,375.8 L616.1,375.3 L618.2,374.7 L620.3,374.0 L622.5,373.2 L624.6,372.4 L626.7,371.6 L628.7,370.9 L630.7,370.2 L632.5,369.6 L634.4,369.1 L636.2,368.7 L637.9,368.3 L639.4,367.9 L640.8,367.6 L641.9,367.3 L643.0,367.1 L643.9,366.9 L644.6,366.8 L645.2,366.7 L645.7,366.6" fill="none" stroke="#f4c542" stroke-width="1.3" stroke-linejoin="round" stroke-linecap="round" />
<path d="M449.4,438.0 L451.1,436.7 L452.4,440.5 L454.9,443.0 L458.6,441.7 L464.7,436.7 L469.7,430.3 L475.9,420.2 L479.6,411.4 L484.6,400.0 L488.3,393.6 L489.5,394.1 L494.5,384.8 L499.3,377.2 L501.9,370.3 L504.3,368.3 L505.6,370.3 L509.3,362.0 L510.6,359.4 L512.1,360.0 L514.5,356.9 L516.9,358.2 L519.5,351.3 L521.9,351.8 L524.5,350.8 L525.6,353.1 L528.2,360.2 L529.8,357.7 L533.1,362.0 L536.8,362.7 L540.5,367.0 L544.2,370.3 L547.9,374.6 L551.6,377.2 L552.9,382.2 L556.6,386.5 L560.3,398.7 L564.1,411.4 L571.5,426.5 L578.9,436.7 L583.8,441.7 L588.8,443.5" fill="none" stroke="#5e4291" stroke-width="1.3" stroke-linejoin="round" stroke-linecap="round" />
<rect x="11.4" y="486.5" width="326.9" height="154.5" fill="#fff" />
<text x="14.0" y="493.5" font-size="7.4" fill="#262626" textLength="100.5" lengthAdjust="spacingAndGlyphs" stroke="#262626" stroke-width="0.14">Solar Humidity &amp; Temperature</text>
<text x="118.5" y="493.5" font-size="5.2" fill="#555" textLength="73.0" lengthAdjust="spacingAndGlyphs">(Location : All | February '25)</text>
<text x="46.0" y="619.0" font-size="4.8" fill="#777" text-anchor="middle" textLength="20.5" lengthAdjust="spacingAndGlyphs">12:00 AM</text>
<text x="79.4" y="619.0" font-size="4.8" fill="#777" text-anchor="middle" textLength="17.5" lengthAdjust="spacingAndGlyphs">3:00 AM</text>
<text x="112.8" y="619.0" font-size="4.8" fill="#777" text-anchor="middle" textLength="17.5" lengthAdjust="spacingAndGlyphs">6:00 AM</text>
<text x="146.2" y="619.0" font-size="4.8" fill="#777" text-anchor="middle" textLength="17.5" lengthAdjust="spacingAndGlyphs">9:00 AM</text>
<text x="179.6" y="619.0" font-size="4.8" fill="#777" text-anchor="middle" textLength="20.5" lengthAdjust="spacingAndGlyphs">12:00 PM</text>
<text x="213.0" y="619.0" font-size="4.8" fill="#777" text-anchor="middle" textLength="17.5" lengthAdjust="spacingAndGlyphs">3:00 PM</text>
<text x="246.4" y="619.0" font-size="4.8" fill="#777" text-anchor="middle" textLength="17.5" lengthAdjust="spacingAndGlyphs">6:00 PM</text>
<text x="279.8" y="619.0" font-size="4.8" fill="#777" text-anchor="middle" textLength="17.5" lengthAdjust="spacingAndGlyphs">9:00 PM</text>
<line x1="46.0" y1="627.5" x2="311.5" y2="627.5" stroke="#2a2a2a" stroke-width="1.6"/>
<circle cx="46.0" cy="627.5" r="2.9" fill="#fff" stroke="#2a2a2a" stroke-width="1"/>
<circle cx="311.5" cy="627.5" r="2.9" fill="#fff" stroke="#2a2a2a" stroke-width="1"/>
<text x="179.8" y="637.5" font-size="5.4" fill="#222" font-weight="bold" text-anchor="middle" textLength="11.5" lengthAdjust="spacingAndGlyphs">Time</text>
<circle cx="16.0" cy="504.4" r="2.3" fill="#f4c542"/>
<text x="19.2" y="506.2" font-size="5" fill="#666" textLength="22.5" lengthAdjust="spacingAndGlyphs">Humidity</text>
<circle cx="47.5" cy="504.4" r="2.3" fill="#ea535c"/>
<text x="50.7" y="506.2" font-size="5" fill="#666" textLength="43.0" lengthAdjust="spacingAndGlyphs">Temperature (C°)</text>
<line x1="41.0" y1="515.0" x2="316.0" y2="515.0" stroke="#c8c8c8" stroke-width="0.7" stroke-dasharray="0.8 2"/>
<text x="37.5" y="516.7" font-size="4.7" fill="#777" text-anchor="end">100 %</text>
<line x1="41.0" y1="553.0" x2="316.0" y2="553.0" stroke="#c8c8c8" stroke-width="0.7" stroke-dasharray="0.8 2"/>
<text x="37.5" y="554.7" font-size="4.7" fill="#777" text-anchor="end">90 %</text>
<line x1="41.0" y1="592.8" x2="316.0" y2="592.8" stroke="#c8c8c8" stroke-width="0.7" stroke-dasharray="0.8 2"/>
<text x="37.5" y="594.5" font-size="4.7" fill="#777" text-anchor="end">80 %</text>
<text x="321.0" y="536.3" font-size="4.7" fill="#777">30</text>
<text x="321.0" y="584.7" font-size="4.7" fill="#777">25</text>
<text transform="translate(18.5,563.5) rotate(-90)" font-size="5.2" fill="#333" text-anchor="middle" font-weight="bold">%</text>
<text transform="translate(335.0,563.7) rotate(-90)" font-size="5.4" fill="#333" text-anchor="middle" font-weight="bold">C°</text>
<path d="M46.0,535.1 L49.3,534.8 L53.8,534.3 L59.1,533.7 L64.9,533.1 L70.6,532.5 L76.0,532.0 L81.1,531.6 L86.3,531.2 L91.6,530.9 L96.7,530.6 L101.7,530.3 L106.4,530.0 L111.0,529.7 L115.5,529.5 L119.9,529.3 L123.9,529.1 L127.5,529.0 L130.4,529.0 L132.5,529.1 L133.9,529.3 L134.7,529.5 L135.3,529.8 L135.9,530.3 L136.7,530.8 L137.6,531.4 L138.4,532.1 L139.2,532.9 L140.0,533.8 L140.8,535.0 L141.8,536.3 L142.9,537.9 L144.1,539.9 L145.4,541.9 L146.8,544.1 L148.1,546.4 L149.4,548.5 L150.7,550.6 L151.9,552.7 L153.2,554.8 L154.5,557.0 L155.7,559.1 L157.0,561.2 L158.2,563.3 L159.4,565.4 L160.6,567.5 L161.9,569.6 L163.2,571.7 L164.6,573.8 L166.2,575.9 L168.0,578.1 L169.8,580.3 L171.6,582.4 L173.4,584.4 L175.0,586.3 L176.4,588.0 L177.7,589.7 L179.0,591.2 L180.2,592.6 L181.4,594.0 L182.6,595.3 L183.8,596.5 L185.0,597.8 L186.2,598.8 L187.5,600.3 L188.8,600.8 L190.2,601.8 L191.8,602.6 L193.5,603.3 L195.2,604.1 L197.0,605.3 L198.7,605.4 L200.3,605.5 L201.7,606.5 L203.1,607.3 L204.4,607.3 L205.6,607.3 L206.8,607.8 L207.9,607.6 L208.9,608.2 L209.7,607.9 L210.4,608.3 L211.2,608.2 L212.0,608.3 L213.0,608.6 L214.2,608.2 L215.4,607.8 L216.8,608.0 L218.2,607.9 L219.5,607.6 L220.6,607.4 L221.6,607.0 L222.4,606.5 L223.2,606.2 L223.9,605.8 L224.7,605.1 L225.6,603.8 L226.6,603.1 L227.5,601.5 L228.6,600.6 L229.6,598.7 L230.8,597.3 L232.0,595.3 L233.3,593.0 L234.8,590.3 L236.3,587.3 L237.9,584.4 L239.4,581.5 L240.8,578.9 L242.1,576.5 L243.4,574.3 L244.7,572.2 L245.9,570.1 L247.1,568.1 L248.4,566.2 L249.7,564.3 L250.9,562.5 L252.2,560.8 L253.5,559.1 L254.7,557.5 L256.0,556.1 L257.3,554.8 L258.5,553.6 L259.8,552.5 L261.1,551.5 L262.3,550.6 L263.6,549.8 L264.8,549.1 L265.9,548.5 L267.1,547.9 L268.3,547.5 L269.6,547.0 L271.2,546.5 L273.0,546.0 L275.1,545.5 L277.2,545.0 L279.5,544.5 L281.7,544.0 L283.9,543.4 L286.0,542.7 L288.2,541.9 L290.4,541.1 L292.5,540.3 L294.5,539.6 L296.5,538.9 L298.4,538.3 L300.3,537.8 L302.1,537.4 L303.8,537.0 L305.3,536.6 L306.7,536.3 L307.9,536.0 L308.9,535.8 L309.8,535.6 L310.6,535.5 L311.2,535.4 L311.7,535.3" fill="none" stroke="#f4c542" stroke-width="1.5" stroke-linejoin="round" stroke-linecap="round" />
<path d="M46.0,586.4 L48.2,586.9 L51.2,587.5 L54.8,588.3 L58.6,589.1 L62.5,590.0 L66.1,590.7 L69.4,591.4 L72.7,592.1 L76.0,592.7 L79.3,593.4 L82.7,594.0 L86.1,594.5 L89.9,595.0 L93.8,595.4 L97.8,595.7 L101.7,596.0 L105.4,596.3 L108.7,596.5 L111.6,596.7 L114.1,596.9 L116.4,597.1 L118.6,597.1 L120.5,597.1 L122.4,597.0 L124.2,596.7 L125.8,596.4 L127.2,595.9 L128.5,595.4 L129.8,594.7 L131.1,594.0 L132.5,593.2 L133.8,592.2 L135.1,591.1 L136.3,590.0 L137.5,588.9 L138.7,587.7 L139.6,586.6 L140.4,585.6 L141.1,584.6 L141.9,583.4 L142.9,581.9 L144.2,580.0 L145.8,577.5 L147.8,574.5 L149.9,571.2 L152.1,567.8 L154.3,564.5 L156.4,561.6 L158.4,559.0 L160.4,556.6 L162.4,554.4 L164.5,552.2 L166.5,550.2 L168.5,548.1 L170.5,546.1 L172.6,544.1 L174.6,542.1 L176.6,540.3 L178.7,538.6 L180.7,537.0 L182.7,535.6 L184.8,534.3 L186.9,533.2 L189.0,532.2 L191.0,531.2 L192.8,530.3 L194.6,529.5 L196.4,528.7 L198.0,528.0 L199.6,527.4 L201.1,526.8 L202.5,526.4 L203.8,526.1 L204.9,525.9 L206.0,525.8 L207.0,525.7 L208.0,525.7 L209.2,525.6 L210.4,525.5 L211.7,525.4 L213.0,525.3 L214.3,525.3 L215.7,525.4 L217.1,525.5 L218.4,525.7 L219.8,526.0 L221.2,526.4 L222.6,526.9 L224.0,527.4 L225.5,528.1 L226.9,528.9 L228.2,529.7 L229.6,530.6 L231.0,531.7 L232.5,533.0 L234.2,534.5 L236.0,536.4 L238.0,538.5 L240.0,540.9 L242.2,543.3 L244.3,545.8 L246.3,548.1 L248.3,550.4 L250.3,552.7 L252.3,555.1 L254.3,557.4 L256.3,559.6 L258.5,561.6 L260.8,563.5 L263.2,565.3 L265.7,567.0 L268.2,568.5 L270.7,570.0 L273.1,571.4 L275.6,572.7 L278.1,573.8 L280.5,574.8 L283.0,575.8 L285.4,576.7 L287.7,577.6 L289.9,578.4 L292.0,579.2 L294.1,579.9 L296.1,580.6 L298.1,581.3 L300.1,582.0 L302.2,582.8 L304.5,583.6 L306.7,584.5 L308.7,585.3 L310.5,585.9 L311.7,586.4" fill="none" stroke="#ea535c" stroke-width="1.5" stroke-linejoin="round" stroke-linecap="round" />
<rect x="354.4" y="486.5" width="326.6" height="154.5" fill="#fff" />
<text x="357.0" y="493.5" font-size="7.4" fill="#262626" textLength="71.5" lengthAdjust="spacingAndGlyphs" stroke="#262626" stroke-width="0.14">Humidity &amp; Dew Point</text>
<text x="430.5" y="493.5" font-size="5.2" fill="#555" textLength="73.0" lengthAdjust="spacingAndGlyphs">(Location : All | February '25)</text>
<text x="389.5" y="619.0" font-size="4.8" fill="#777" text-anchor="middle" textLength="20.5" lengthAdjust="spacingAndGlyphs">12:00 AM</text>
<text x="422.6" y="619.0" font-size="4.8" fill="#777" text-anchor="middle" textLength="17.5" lengthAdjust="spacingAndGlyphs">3:00 AM</text>
<text x="455.8" y="619.0" font-size="4.8" fill="#777" text-anchor="middle" textLength="17.5" lengthAdjust="spacingAndGlyphs">6:00 AM</text>
<text x="488.9" y="619.0" font-size="4.8" fill="#777" text-anchor="middle" textLength="17.5" lengthAdjust="spacingAndGlyphs">9:00 AM</text>
<text x="522.1" y="619.0" font-size="4.8" fill="#777" text-anchor="middle" textLength="20.5" lengthAdjust="spacingAndGlyphs">12:00 PM</text>
<text x="555.2" y="619.0" font-size="4.8" fill="#777" text-anchor="middle" textLength="17.5" lengthAdjust="spacingAndGlyphs">3:00 PM</text>
<text x="588.4" y="619.0" font-size="4.8" fill="#777" text-anchor="middle" textLength="17.5" lengthAdjust="spacingAndGlyphs">6:00 PM</text>
<text x="621.5" y="619.0" font-size="4.8" fill="#777" text-anchor="middle" textLength="17.5" lengthAdjust="spacingAndGlyphs">9:00 PM</text>
<line x1="389.5" y1="627.5" x2="654.6" y2="627.5" stroke="#2a2a2a" stroke-width="1.6"/>
<circle cx="389.5" cy="627.5" r="2.9" fill="#fff" stroke="#2a2a2a" stroke-width="1"/>
<circle cx="654.6" cy="627.5" r="2.9" fill="#fff" stroke="#2a2a2a" stroke-width="1"/>
<text x="523.0" y="637.5" font-size="5.4" fill="#222" font-weight="bold" text-anchor="middle" textLength="11.5" lengthAdjust="spacingAndGlyphs">Time</text>
<circle cx="358.7" cy="504.4" r="2.3" fill="#f4c542"/>
<text x="361.9" y="506.2" font-size="5" fill="#666" textLength="22.5" lengthAdjust="spacingAndGlyphs">Humidity</text>
<circle cx="390.7" cy="504.4" r="2.3" fill="#6db52b"/>
<text x="393.9" y="506.2" font-size="5" fill="#666" textLength="37.0" lengthAdjust="spacingAndGlyphs">Dew Point (C°)</text>
<line x1="384.0" y1="515.0" x2="659.0" y2="515.0" stroke="#c8c8c8" stroke-width="0.7" stroke-dasharray="0.8 2"/>
<text x="380.5" y="516.7" font-size="4.7" fill="#777" text-anchor="end">100 %</text>
<line x1="384.0" y1="553.0" x2="659.0" y2="553.0" stroke="#c8c8c8" stroke-width="0.7" stroke-dasharray="0.8 2"/>
<text x="380.5" y="554.7" font-size="4.7" fill="#777" text-anchor="end">90 %</text>
<line x1="384.0" y1="592.8" x2="659.0" y2="592.8" stroke="#c8c8c8" stroke-width="0.7" stroke-dasharray="0.8 2"/>
<text x="380.5" y="594.5" font-size="4.7" fill="#777" text-anchor="end">80 %</text>
<text x="663.5" y="536.3" font-size="4.7" fill="#777">26</text>
<text x="663.5" y="574.7" font-size="4.7" fill="#777">24</text>
<text x="663.5" y="614.3" font-size="4.7" fill="#777">22</text>
<text transform="translate(361.0,563.5) rotate(-90)" font-size="5.2" fill="#333" text-anchor="middle" font-weight="bold">%</text>
<text transform="translate(677.5,563.7) rotate(-90)" font-size="5.4" fill="#333" text-anchor="middle" font-weight="bold">C°</text>
<path d="M389.3,535.1 L392.6,534.8 L397.1,534.3 L402.4,533.7 L408.1,533.1 L413.9,532.5 L419.3,532.0 L424.4,531.6 L429.6,531.2 L434.8,530.9 L440.0,530.6 L445.0,530.3 L449.7,530.0 L454.2,529.7 L458.8,529.5 L463.2,529.3 L467.2,529.1 L470.7,529.0 L473.6,529.0 L475.7,529.1 L477.1,529.3 L478.0,529.5 L478.6,529.8 L479.2,530.3 L479.9,530.8 L480.8,531.4 L481.6,532.1 L482.4,532.9 L483.2,533.8 L484.0,535.0 L485.0,536.3 L486.1,537.9 L487.4,539.9 L488.7,541.9 L490.0,544.1 L491.3,546.4 L492.6,548.5 L493.9,550.6 L495.2,552.7 L496.4,554.8 L497.7,557.0 L499.0,559.1 L500.2,561.2 L501.4,563.3 L502.6,565.4 L503.8,567.5 L505.1,569.6 L506.4,571.7 L507.8,573.8 L509.4,575.9 L511.2,578.1 L513.0,580.3 L514.8,582.4 L516.6,584.4 L518.2,586.3 L519.6,588.0 L520.9,589.7 L522.2,591.2 L523.4,592.6 L524.6,594.0 L525.8,595.3 L527.0,596.5 L528.2,597.8 L529.4,598.8 L530.7,600.3 L532.0,600.8 L533.4,601.8 L535.0,602.6 L536.7,603.3 L538.4,604.1 L540.2,605.3 L541.9,605.4 L543.5,605.5 L544.9,606.5 L546.3,607.3 L547.6,607.3 L548.8,607.3 L550.0,607.8 L551.1,607.6 L552.0,608.2 L552.9,607.9 L553.6,608.3 L554.4,608.2 L555.2,608.3 L556.2,608.6 L557.3,608.2 L558.6,607.8 L560.0,608.0 L561.3,607.9 L562.6,607.6 L563.8,607.4 L564.7,607.0 L565.6,606.5 L566.3,606.2 L567.1,605.8 L567.9,605.1 L568.8,603.8 L569.7,603.1 L570.7,601.5 L571.7,600.6 L572.8,598.7 L573.9,597.3 L575.2,595.3 L576.5,593.0 L578.0,590.3 L579.5,587.3 L581.0,584.4 L582.5,581.5 L584.0,578.9 L585.3,576.5 L586.6,574.3 L587.8,572.2 L589.1,570.1 L590.3,568.1 L591.5,566.2 L592.8,564.3 L594.1,562.5 L595.3,560.8 L596.6,559.1 L597.9,557.5 L599.1,556.1 L600.4,554.8 L601.7,553.6 L602.9,552.5 L604.2,551.5 L605.5,550.6 L606.7,549.8 L607.9,549.1 L609.1,548.5 L610.2,547.9 L611.4,547.5 L612.8,547.0 L614.3,546.5 L616.2,546.0 L618.2,545.5 L620.4,545.0 L622.6,544.5 L624.9,544.0 L627.0,543.4 L629.2,542.7 L631.3,541.9 L633.5,541.1 L635.6,540.3 L637.7,539.6 L639.6,538.9 L641.5,538.3 L643.4,537.8 L645.2,537.4 L646.9,537.0 L648.4,536.6 L649.8,536.3 L651.0,536.0 L652.0,535.8 L652.9,535.6 L653.7,535.5 L654.3,535.4 L654.8,535.3" fill="none" stroke="#f4c542" stroke-width="1.5" stroke-linejoin="round" stroke-linecap="round" />
<path d="M389.3,578.4 L390.8,578.9 L392.9,579.5 L395.3,580.3 L398.0,581.1 L400.6,581.9 L403.2,582.7 L405.7,583.4 L408.3,584.2 L410.9,584.9 L413.5,585.6 L416.0,586.3 L418.4,587.0 L420.6,587.6 L422.7,588.2 L424.8,588.8 L426.8,589.3 L428.9,589.8 L431.1,590.3 L433.5,590.7 L436.2,591.1 L438.9,591.4 L441.5,591.7 L444.0,592.0 L446.3,592.3 L448.3,592.6 L450.1,593.0 L451.8,593.4 L453.4,593.7 L454.9,593.9 L456.4,594.1 L457.8,594.2 L459.2,594.2 L460.5,594.2 L461.7,594.1 L462.9,593.9 L464.0,593.6 L465.0,593.3 L465.8,592.9 L466.6,592.4 L467.3,591.8 L468.1,591.1 L469.1,590.3 L470.2,589.3 L471.4,588.2 L472.7,586.9 L474.1,585.6 L475.4,584.2 L476.7,582.7 L478.0,581.2 L479.2,579.5 L480.5,577.8 L481.8,576.1 L483.0,574.3 L484.3,572.6 L485.6,570.9 L486.8,569.1 L488.1,567.3 L489.4,565.6 L490.6,564.0 L491.9,562.4 L493.2,561.0 L494.4,559.6 L495.7,558.3 L497.0,557.0 L498.2,555.9 L499.5,554.8 L500.8,553.8 L502.0,552.9 L503.3,552.1 L504.6,551.4 L505.8,550.6 L507.1,549.8 L508.4,548.9 L509.7,548.0 L511.0,547.1 L512.3,546.2 L513.6,545.4 L514.7,544.7 L515.7,544.2 L516.6,543.9 L517.4,543.6 L518.3,543.4 L519.1,543.1 L520.0,542.9 L520.9,542.1 L521.8,541.4 L522.7,540.8 L523.7,539.9 L524.8,539.4 L526.1,539.0 L527.6,538.5 L529.2,538.1 L531.0,537.9 L532.8,537.4 L534.6,537.4 L536.3,537.5 L538.0,536.7 L539.8,536.5 L541.5,535.8 L543.2,535.1 L544.9,535.0 L546.4,534.7 L547.8,534.3 L548.9,534.0 L550.0,533.7 L551.2,533.9 L552.5,533.3 L554.0,533.6 L555.8,533.4 L557.9,533.4 L560.1,533.9 L562.4,534.8 L564.6,534.5 L566.6,534.3 L568.5,535.0 L570.3,535.1 L572.1,535.4 L573.8,535.9 L575.4,535.7 L576.8,535.4 L578.1,535.7 L579.1,535.5 L580.1,535.3 L581.0,534.6 L582.0,535.0 L583.1,535.3 L584.3,535.3 L585.6,535.9 L586.9,536.0 L588.2,536.5 L589.5,537.1 L590.7,537.9 L591.8,539.0 L592.8,540.3 L593.9,541.7 L594.9,543.2 L595.9,544.7 L597.0,546.0 L598.1,547.1 L599.2,548.1 L600.4,549.0 L601.6,550.0 L603.0,551.1 L604.6,552.3 L606.4,553.8 L608.5,555.5 L610.6,557.3 L612.9,559.1 L615.1,560.8 L617.3,562.4 L619.4,563.8 L621.5,565.2 L623.7,566.5 L625.8,567.7 L627.9,568.9 L630.0,570.0 L632.1,571.0 L634.2,572.0 L636.3,572.8 L638.4,573.6 L640.5,574.4 L642.6,575.1 L644.8,575.8 L647.1,576.5 L649.5,577.1 L651.7,577.6 L653.5,578.1 L654.8,578.4" fill="none" stroke="#6db52b" stroke-width="1.5" stroke-linejoin="round" stroke-linecap="round" />
<rect x="12.7" y="653.2" width="325.7" height="155.2" fill="#fff" />
<text x="15.3" y="660.2" font-size="7.4" fill="#262626" textLength="78.5" lengthAdjust="spacingAndGlyphs" stroke="#262626" stroke-width="0.14">Avg Barometer by Time</text>
<text x="95.5" y="660.2" font-size="5.2" fill="#555" textLength="73.0" lengthAdjust="spacingAndGlyphs">(Location : All | February '25)</text>
<text x="48.6" y="786.0" font-size="4.8" fill="#777" text-anchor="middle" textLength="20.5" lengthAdjust="spacingAndGlyphs">12:00 AM</text>
<text x="83.6" y="786.0" font-size="4.8" fill="#777" text-anchor="middle" textLength="17.5" lengthAdjust="spacingAndGlyphs">3:00 AM</text>
<text x="118.5" y="786.0" font-size="4.8" fill="#777" text-anchor="middle" textLength="17.5" lengthAdjust="spacingAndGlyphs">6:00 AM</text>
<text x="153.5" y="786.0" font-size="4.8" fill="#777" text-anchor="middle" textLength="17.5" lengthAdjust="spacingAndGlyphs">9:00 AM</text>
<text x="188.4" y="786.0" font-size="4.8" fill="#777" text-anchor="middle" textLength="20.5" lengthAdjust="spacingAndGlyphs">12:00 PM</text>
<text x="223.3" y="786.0" font-size="4.8" fill="#777" text-anchor="middle" textLength="17.5" lengthAdjust="spacingAndGlyphs">3:00 PM</text>
<text x="258.3" y="786.0" font-size="4.8" fill="#777" text-anchor="middle" textLength="17.5" lengthAdjust="spacingAndGlyphs">6:00 PM</text>
<text x="293.3" y="786.0" font-size="4.8" fill="#777" text-anchor="middle" textLength="17.5" lengthAdjust="spacingAndGlyphs">9:00 PM</text>
<line x1="48.6" y1="794.0" x2="326.4" y2="794.0" stroke="#2a2a2a" stroke-width="1.6"/>
<circle cx="48.6" cy="794.0" r="2.9" fill="#fff" stroke="#2a2a2a" stroke-width="1"/>
<circle cx="326.4" cy="794.0" r="2.9" fill="#fff" stroke="#2a2a2a" stroke-width="1"/>
<text x="188.5" y="803.8" font-size="5.4" fill="#222" font-weight="bold" text-anchor="middle" textLength="11.5" lengthAdjust="spacingAndGlyphs">Time</text>
<line x1="43.0" y1="667.9" x2="331.0" y2="667.9" stroke="#c8c8c8" stroke-width="0.7" stroke-dasharray="0.8 2"/>
<text x="40.0" y="669.6" font-size="4.7" fill="#777" text-anchor="end">39,800</text>
<line x1="43.0" y1="705.0" x2="331.0" y2="705.0" stroke="#c8c8c8" stroke-width="0.7" stroke-dasharray="0.8 2"/>
<text x="40.0" y="706.7" font-size="4.7" fill="#777" text-anchor="end">39,600</text>
<line x1="43.0" y1="741.3" x2="331.0" y2="741.3" stroke="#c8c8c8" stroke-width="0.7" stroke-dasharray="0.8 2"/>
<text x="40.0" y="743.0" font-size="4.7" fill="#777" text-anchor="end">39,400</text>
<line x1="43.0" y1="778.3" x2="331.0" y2="778.3" stroke="#c8c8c8" stroke-width="0.7" stroke-dasharray="0.8 2"/>
<text x="40.0" y="780.0" font-size="4.7" fill="#777" text-anchor="end">39,200</text>
<text transform="translate(20.0,723.6) rotate(-90)" font-size="5.2" fill="#333" text-anchor="middle" font-weight="bold">mb</text>
<path d="M48.6,680.0 L60.0,683.0 L73.4,686.8 L88.6,691.0 L93.0,691.4 L99.3,691.4 L101.3,706.3 L104.0,706.0 L111.4,704.0 L117.0,702.5 L122.8,700.3 L124.0,708.0 L126.1,727.4 L128.0,726.0 L130.4,726.1 L131.3,732.0 L132.2,737.5 L134.2,737.5 L136.0,752.0 L138.0,764.0 L140.0,764.3 L142.3,763.3 L145.0,740.0 L147.2,722.0 L148.5,718.3 L152.0,717.6 L159.5,717.2 L165.0,717.8 L169.2,718.0 L170.0,710.0 L171.0,704.6 L173.0,705.5 L174.6,706.3 L175.8,698.0 L177.1,691.4 L188.0,698.0 L200.4,705.8 L212.0,713.0 L225.2,721.0 L226.4,713.0 L227.7,707.1 L233.0,708.6 L238.4,709.6 L245.0,708.7 L251.0,707.1 L260.0,703.0 L271.3,697.0 L286.0,688.5 L301.7,680.5 L310.0,678.8 L319.4,678.0 L327.0,679.5" fill="none" stroke="#2187e0" stroke-width="1.5" stroke-linejoin="round" stroke-linecap="round" />
<rect x="353.8" y="653.0" width="109.7" height="114.0" fill="#fff" />
<path d="M394.20000000000005,709.5 A14.4,14.4 0 0 1 423.0,709.5 Z" fill="#f6da5e"/>
<path d="M394.20000000000005,709.5 A14.4,14.4 0 0 0 423.0,709.5 Z" fill="#3a5274"/>
<line x1="378" y1="709.5" x2="439.6" y2="709.5" stroke="#6480a2" stroke-width="1.5"/>
<line x1="408.6" y1="692.9" x2="408.6" y2="686.3" stroke="#f6da5e" stroke-width="1.25" stroke-linecap="round"/>
<line x1="421.2" y1="696.9" x2="426.0" y2="692.1" stroke="#f6da5e" stroke-width="1.25" stroke-linecap="round"/>
<line x1="396.0" y1="696.9" x2="391.2" y2="692.1" stroke="#f6da5e" stroke-width="1.25" stroke-linecap="round"/>
<line x1="408.6" y1="726.1" x2="408.6" y2="732.7" stroke="#4a6384" stroke-width="1.25" stroke-linecap="round"/>
<line x1="421.2" y1="722.1" x2="426.0" y2="726.9" stroke="#4a6384" stroke-width="1.25" stroke-linecap="round"/>
<line x1="396.0" y1="722.1" x2="391.2" y2="726.9" stroke="#4a6384" stroke-width="1.25" stroke-linecap="round"/>
<text x="408.6" y="752.3" font-size="15.4" fill="#2b2b2b" text-anchor="middle" textLength="56.0" lengthAdjust="spacingAndGlyphs" stroke="#2b2b2b" stroke-width="0.3">18:40:00</text>
<rect x="353.8" y="777.6" width="109.7" height="31.1" fill="#fff" rx="4"/>
<text x="408.8" y="795.0" font-size="10.3" fill="#333" text-anchor="middle" textLength="41.5" lengthAdjust="spacingAndGlyphs" stroke="#333" stroke-width="0.25">270° - W</text>
<text x="408.8" y="804.4" font-size="4.6" fill="#888" text-anchor="middle" textLength="52.5" lengthAdjust="spacingAndGlyphs">Modus Wind Direction</text>
<rect x="480.4" y="653.2" width="197.2" height="190.0" fill="#3a434e" />
<text x="579.5" y="663.0" font-size="5.6" fill="#fff" font-weight="bold" text-anchor="middle" textLength="80.0" lengthAdjust="spacingAndGlyphs">(Location : All | February '25)</text>
<text x="483.0" y="673.5" font-size="6.3" fill="#c9c8f2" textLength="34.0" lengthAdjust="spacingAndGlyphs" stroke="#c9c8f2" stroke-width="0.25">Wind Rose</text>
<polyline points="576.5,757.8 576.5,684.8 579.5,684.8" fill="none" stroke="#666e78" stroke-width="0.6"/>
<polyline points="576.5,757.8 604.4,690.4 607.4,690.4" fill="none" stroke="#666e78" stroke-width="0.6"/>
<polyline points="576.5,757.8 628.1,706.2 631.1,706.2" fill="none" stroke="#666e78" stroke-width="0.6"/>
<polyline points="576.5,757.8 643.9,729.9 646.9,729.9" fill="none" stroke="#666e78" stroke-width="0.6"/>
<polyline points="576.5,757.8 649.5,757.8 652.5,757.8" fill="none" stroke="#666e78" stroke-width="0.6"/>
<polyline points="576.5,757.8 643.9,785.7 646.9,785.7" fill="none" stroke="#666e78" stroke-width="0.6"/>
<polyline points="576.5,757.8 628.1,809.4 631.1,809.4" fill="none" stroke="#666e78" stroke-width="0.6"/>
<polyline points="576.5,757.8 604.4,825.2 607.4,825.2" fill="none" stroke="#666e78" stroke-width="0.6"/>
<polyline points="576.5,757.8 576.5,830.8 573.5,830.8" fill="none" stroke="#666e78" stroke-width="0.6"/>
<polyline points="576.5,757.8 548.6,825.2 545.6,825.2" fill="none" stroke="#666e78" stroke-width="0.6"/>
<polyline points="576.5,757.8 524.9,809.4 521.9,809.4" fill="none" stroke="#666e78" stroke-width="0.6"/>
<polyline points="576.5,757.8 509.1,785.7 506.1,785.7" fill="none" stroke="#666e78" stroke-width="0.6"/>
<polyline points="576.5,757.8 503.5,757.8 500.5,757.8" fill="none" stroke="#666e78" stroke-width="0.6"/>
<polyline points="576.5,757.8 509.1,729.9 506.1,729.9" fill="none" stroke="#666e78" stroke-width="0.6"/>
<polyline points="576.5,757.8 524.9,706.2 521.9,706.2" fill="none" stroke="#666e78" stroke-width="0.6"/>
<polyline points="576.5,757.8 548.6,690.4 545.6,690.4" fill="none" stroke="#666e78" stroke-width="0.6"/>
<circle cx="576.5" cy="757.8" r="42" fill="none" stroke="#8a9098" stroke-width="1"/>
<path d="M576.5,757.8 L576.5,719.8 A38,38 0 0 1 591.0,722.7 Z" fill="#1e90ff"/>
<path d="M576.5,757.8 L592.6,719.0 A42,42 0 0 1 606.2,728.1 Z" fill="#1c2aa0"/>
<path d="M576.5,757.8 L616.1,718.2 A56,56 0 0 1 628.2,736.4 Z" fill="#e8703a"/>
<path d="M576.5,757.8 L624.9,737.7 A52.4,52.4 0 0 1 628.9,757.8 Z" fill="#6a0080"/>
<path d="M576.5,757.8 L632.5,757.8 A56,56 0 0 1 628.2,779.2 Z" fill="#e044a7"/>
<path d="M576.5,757.8 L625.5,778.1 A53,53 0 0 1 614.0,795.3 Z" fill="#7d4fcf"/>
<path d="M576.5,757.8 L608.8,790.1 A45.7,45.7 0 0 1 594.0,800.0 Z" fill="#dfb30f"/>
<path d="M576.5,757.8 L598.3,810.5 A57,57 0 0 1 576.5,814.8 Z" fill="#d8434e"/>
<path d="M576.5,757.8 L576.5,800.8 A43,43 0 0 1 560.0,797.5 Z" fill="#2a8a86"/>
<path d="M576.5,757.8 L561.6,793.8 A39,39 0 0 1 548.9,785.4 Z" fill="#32b455"/>
<path d="M576.5,757.8 L540.7,793.6 A50.6,50.6 0 0 1 529.8,777.2 Z" fill="#1fc4f0"/>
<path d="M576.5,757.8 L521.5,780.6 A59.5,59.5 0 0 1 517.0,757.8 Z" fill="#3d8bff"/>
<path d="M576.5,757.8 L501.0,757.8 A75.5,75.5 0 0 1 506.7,728.9 Z" fill="#ff9e4d"/>
<path d="M576.5,757.8 L511.4,730.8 A70.5,70.5 0 0 1 526.6,707.9 Z" fill="#c455cc"/>
<path d="M576.5,757.8 L541.9,723.2 A49,49 0 0 1 557.7,712.5 Z" fill="#f67ad0"/>
<path d="M576.5,757.8 L563.6,726.8 A33.6,33.6 0 0 1 576.5,724.2 Z" fill="#c4a6f5"/>
<polygon points="576.5,718.8 592.4,719.4 608.2,726.1 616.5,741.2 618.7,757.8 612.8,772.8 601.0,782.3 592.8,797.2 576.5,801.0 561.5,793.9 549.6,784.7 535.0,775.0 528.5,757.8 533.4,740.0 547.1,728.4 562.6,724.3" fill="#fff" fill-opacity="0.42" stroke="#c9ccd1" stroke-width="0.6"/>
<circle cx="576.5" cy="757.8" r="21.1" fill="#8c8f94"/>
<line x1="576.5" y1="757.8" x2="576.5" y2="736.7" stroke="#a9acb0" stroke-width="0.5"/>
<line x1="576.5" y1="757.8" x2="584.6" y2="738.3" stroke="#a9acb0" stroke-width="0.5"/>
<line x1="576.5" y1="757.8" x2="591.4" y2="742.9" stroke="#a9acb0" stroke-width="0.5"/>
<line x1="576.5" y1="757.8" x2="596.0" y2="749.7" stroke="#a9acb0" stroke-width="0.5"/>
<line x1="576.5" y1="757.8" x2="597.6" y2="757.8" stroke="#a9acb0" stroke-width="0.5"/>
<line x1="576.5" y1="757.8" x2="596.0" y2="765.9" stroke="#a9acb0" stroke-width="0.5"/>
<line x1="576.5" y1="757.8" x2="591.4" y2="772.7" stroke="#a9acb0" stroke-width="0.5"/>
<line x1="576.5" y1="757.8" x2="584.6" y2="777.3" stroke="#a9acb0" stroke-width="0.5"/>
<line x1="576.5" y1="757.8" x2="576.5" y2="778.9" stroke="#a9acb0" stroke-width="0.5"/>
<line x1="576.5" y1="757.8" x2="568.4" y2="777.3" stroke="#a9acb0" stroke-width="0.5"/>
<line x1="576.5" y1="757.8" x2="561.6" y2="772.7" stroke="#a9acb0" stroke-width="0.5"/>
<line x1="576.5" y1="757.8" x2="557.0" y2="765.9" stroke="#a9acb0" stroke-width="0.5"/>
<line x1="576.5" y1="757.8" x2="555.4" y2="757.8" stroke="#a9acb0" stroke-width="0.5"/>
<line x1="576.5" y1="757.8" x2="557.0" y2="749.7" stroke="#a9acb0" stroke-width="0.5"/>
<line x1="576.5" y1="757.8" x2="561.6" y2="742.9" stroke="#a9acb0" stroke-width="0.5"/>
<line x1="576.5" y1="757.8" x2="568.4" y2="738.3" stroke="#a9acb0" stroke-width="0.5"/>
<circle cx="576.5" cy="718.8" r="2.2" fill="#fff"/>
<circle cx="592.4" cy="719.4" r="2.2" fill="#fff"/>
<circle cx="608.2" cy="726.1" r="2.2" fill="#fff"/>
<circle cx="616.5" cy="741.2" r="2.2" fill="#fff"/>
<circle cx="618.7" cy="757.8" r="2.2" fill="#fff"/>
<circle cx="612.8" cy="772.8" r="2.2" fill="#fff"/>
<circle cx="601.0" cy="782.3" r="2.2" fill="#fff"/>
<circle cx="592.8" cy="797.2" r="2.2" fill="#fff"/>
<circle cx="576.5" cy="801.0" r="2.2" fill="#fff"/>
<circle cx="561.5" cy="793.9" r="2.2" fill="#fff"/>
<circle cx="549.6" cy="784.7" r="2.2" fill="#fff"/>
<circle cx="535.0" cy="775.0" r="2.2" fill="#fff"/>
<circle cx="528.5" cy="757.8" r="2.2" fill="#fff"/>
<circle cx="533.4" cy="740.0" r="2.2" fill="#fff"/>
<circle cx="547.1" cy="728.4" r="2.2" fill="#fff"/>
<circle cx="562.6" cy="724.3" r="2.2" fill="#fff"/>
<text x="581.9" y="685.8" font-size="4.8" fill="#fff" font-weight="bold" text-anchor="middle">0</text>
<text x="613.3" y="692.2" font-size="4.8" fill="#fff" font-weight="bold" text-anchor="middle">22.5</text>
<text x="635.3" y="707.8" font-size="4.8" fill="#fff" font-weight="bold" text-anchor="middle">45</text>
<text x="653.2" y="731.2" font-size="4.8" fill="#fff" font-weight="bold" text-anchor="middle">67.5</text>
<text x="657.1" y="760.0" font-size="4.8" fill="#fff" font-weight="bold" text-anchor="middle">90</text>
<text x="657.1" y="788.1" font-size="4.8" fill="#fff" font-weight="bold" text-anchor="middle">112.5</text>
<text x="636.3" y="811.1" font-size="4.8" fill="#fff" font-weight="bold" text-anchor="middle">135</text>
<text x="614.9" y="827.4" font-size="4.8" fill="#fff" font-weight="bold" text-anchor="middle">157.5</text>
<text x="569.1" y="833.5" font-size="4.8" fill="#fff" font-weight="bold" text-anchor="middle">180</text>
<text x="538.8" y="827.4" font-size="4.8" fill="#fff" font-weight="bold" text-anchor="middle">202.5</text>
<text x="517.0" y="811.1" font-size="4.8" fill="#fff" font-weight="bold" text-anchor="middle">225</text>
<text x="498.1" y="788.1" font-size="4.8" fill="#fff" font-weight="bold" text-anchor="middle">247.5</text>
<text x="494.9" y="760.0" font-size="4.8" fill="#fff" font-weight="bold" text-anchor="middle">270</text>
<text x="496.2" y="731.2" font-size="4.8" fill="#fff" font-weight="bold" text-anchor="middle">292.5</text>
<text x="516.4" y="707.8" font-size="4.8" fill="#fff" font-weight="bold" text-anchor="middle">315</text>
<text x="538.8" y="692.2" font-size="4.8" fill="#fff" font-weight="bold" text-anchor="middle">337.5</text>
<polygon points="467.1,846.6 479.7,846.6 479.7,865.6 467.1,865.6 474.5,856.1" fill="#fdfdfd"/>
<polygon points="690.2,846.6 677.6,846.6 677.6,865.6 690.2,865.6 682.8,856.1" fill="#fdfdfd"/>
<rect x="480.6" y="861.9" width="196.1" height="1.5" fill="#fff" />
<rect x="480.6" y="862.4" width="196.1" height="7.0" fill="url(#sh)" />
<rect x="479.7" y="843.2" width="197.9" height="19.2" fill="#fff" />
<text x="578.5" y="854.6" font-size="9" fill="#222" font-weight="bold" text-anchor="middle" textLength="58.5" lengthAdjust="spacingAndGlyphs">Wind Direction</text>
<rect x="482.0" y="866.1" width="58.9" height="31.1" fill="#ff9e4d" />
<text x="483.8" y="873.7" font-size="5.4" fill="#fff" font-weight="bold" textLength="23.0" lengthAdjust="spacingAndGlyphs">270° - W</text>
<text x="483.8" y="895.8" font-size="4.8" fill="#fff" font-weight="bold">1.42K</text>
<rect x="482.0" y="898.1" width="58.9" height="27.8" fill="#c455cc" />
<text x="483.8" y="905.7" font-size="5.4" fill="#fff" font-weight="bold" textLength="38.0" lengthAdjust="spacingAndGlyphs">292.5° - WNW</text>
<text x="483.8" y="924.6" font-size="4.8" fill="#fff" font-weight="bold">1.26K</text>
<rect x="482.0" y="926.9" width="58.9" height="21.6" fill="#3d8bff" />
<text x="483.8" y="934.5" font-size="5.4" fill="#fff" font-weight="bold" textLength="37.0" lengthAdjust="spacingAndGlyphs">247.5° - WSW</text>
<text x="483.8" y="947.2" font-size="4.8" fill="#fff" font-weight="bold">0.99K</text>
<rect x="542.2" y="866.1" width="42.2" height="27.8" fill="#d8434e" />
<text x="544.0" y="873.7" font-size="5.4" fill="#fff" font-weight="bold" textLength="32.0" lengthAdjust="spacingAndGlyphs">157.5° - SSE</text>
<text x="544.0" y="892.6" font-size="4.8" fill="#fff" font-weight="bold">0.93K</text>
<rect x="542.2" y="894.9" width="42.2" height="26.2" fill="#e044a7" />
<text x="544.0" y="902.5" font-size="5.4" fill="#fff" font-weight="bold" textLength="17.5" lengthAdjust="spacingAndGlyphs">90° - E</text>
<text x="544.0" y="919.7" font-size="4.8" fill="#fff" font-weight="bold">0.88K</text>
<rect x="542.2" y="922.3" width="42.2" height="26.2" fill="#e8703a" />
<text x="544.0" y="929.9" font-size="5.4" fill="#fff" font-weight="bold" textLength="21.5" lengthAdjust="spacingAndGlyphs">45° - NE</text>
<text x="544.0" y="947.2" font-size="4.8" fill="#fff" font-weight="bold">0.87K</text>
<rect x="585.4" y="866.1" width="34.0" height="27.8" fill="#6a0080" />
<text x="587.2" y="873.7" font-size="5.4" fill="#fff" font-weight="bold" textLength="29.5" lengthAdjust="spacingAndGlyphs">67.5° - ENE</text>
<text x="587.2" y="892.6" font-size="4.8" fill="#fff" font-weight="bold">0.77K</text>
<rect x="585.4" y="894.9" width="34.0" height="26.8" fill="#7d4fcf" />
<text x="587.2" y="902.5" font-size="5.4" fill="#fff" font-weight="bold" textLength="29.5" lengthAdjust="spacingAndGlyphs">112.5° - E...</text>
<text x="587.2" y="920.4" font-size="4.8" fill="#fff" font-weight="bold">0.72K</text>
<rect x="585.4" y="923.0" width="34.0" height="25.5" fill="#1fc4f0" />
<text x="587.2" y="930.6" font-size="5.4" fill="#fff" font-weight="bold" textLength="26.0" lengthAdjust="spacingAndGlyphs">225° - SW</text>
<text x="587.2" y="947.2" font-size="4.8" fill="#fff" font-weight="bold">0.68K</text>
<rect x="620.7" y="866.1" width="27.5" height="31.1" fill="#f67ad0" />
<text x="622.5" y="873.7" font-size="5.4" fill="#fff" font-weight="bold" textLength="22.5" lengthAdjust="spacingAndGlyphs">315° - ...</text>
<text x="622.5" y="895.8" font-size="4.8" fill="#fff" font-weight="bold">0.68K</text>
<rect x="649.8" y="866.1" width="23.9" height="31.1" fill="#dfb30f" />
<text x="651.6" y="873.7" font-size="5.4" fill="#fff" font-weight="bold" textLength="21.0" lengthAdjust="spacingAndGlyphs">135° - ...</text>
<text x="651.6" y="895.8" font-size="4.8" fill="#fff" font-weight="bold">0.61K</text>
<rect x="620.7" y="898.1" width="35.7" height="18.0" fill="#217875" />
<text x="622.5" y="905.7" font-size="5.4" fill="#fff" font-weight="bold" textLength="20.5" lengthAdjust="spacingAndGlyphs">180° - S</text>
<rect x="620.7" y="917.4" width="35.7" height="16.4" fill="#1c2aa0" />
<text x="622.5" y="925.0" font-size="5.4" fill="#fff" font-weight="bold" textLength="31.5" lengthAdjust="spacingAndGlyphs">22.5° - NNE</text>
<rect x="620.7" y="934.8" width="35.7" height="13.7" fill="#1e90ff" />
<text x="622.5" y="942.4" font-size="5.4" fill="#fff" font-weight="bold" textLength="15.5" lengthAdjust="spacingAndGlyphs">0° - N</text>
<rect x="658.0" y="898.1" width="15.7" height="29.4" fill="#26b14c" />
<text x="659.8" y="905.7" font-size="5.4" fill="#fff" font-weight="bold" textLength="10.0" lengthAdjust="spacingAndGlyphs">20...</text>
<text x="659.8" y="926.3" font-size="4.8" fill="#fff" font-weight="bold">0.36K</text>
<rect x="658.0" y="928.9" width="15.7" height="19.6" fill="#c4a6f5" />
<text x="659.8" y="936.5" font-size="5.4" fill="#fff" font-weight="bold" textLength="10.0" lengthAdjust="spacingAndGlyphs">33...</text>
<text x="659.8" y="947.2" font-size="4.8" fill="#fff" font-weight="bold">0.26K</text>
<rect x="13.9" y="818.7" width="210.1" height="132.0" fill="#fff" />
<text x="16.3" y="826.6" font-size="7.2" fill="#262626" textLength="40.5" lengthAdjust="spacingAndGlyphs" stroke="#262626" stroke-width="0.14">ET by Month</text>
<text x="60.0" y="826.4" font-size="5.2" fill="#444" textLength="33.0" lengthAdjust="spacingAndGlyphs">Location : All</text>
<line x1="37.5" y1="834.3" x2="222.3" y2="834.3" stroke="#c8c8c8" stroke-width="0.7" stroke-dasharray="0.8 2"/>
<text x="34.0" y="836.1" font-size="5" fill="#777" text-anchor="end">400</text>
<line x1="37.5" y1="858.3" x2="222.3" y2="858.3" stroke="#c8c8c8" stroke-width="0.7" stroke-dasharray="0.8 2"/>
<text x="34.0" y="860.1" font-size="5" fill="#777" text-anchor="end">300</text>
<line x1="37.5" y1="883.3" x2="222.3" y2="883.3" stroke="#c8c8c8" stroke-width="0.7" stroke-dasharray="0.8 2"/>
<text x="34.0" y="885.1" font-size="5" fill="#777" text-anchor="end">200</text>
<line x1="37.5" y1="907.6" x2="222.3" y2="907.6" stroke="#c8c8c8" stroke-width="0.7" stroke-dasharray="0.8 2"/>
<text x="34.0" y="909.4" font-size="5" fill="#777" text-anchor="end">100</text>
<line x1="37.5" y1="931.6" x2="222.3" y2="931.6" stroke="#c8c8c8" stroke-width="0.7" stroke-dasharray="0.8 2"/>
<text x="34.0" y="933.4" font-size="5" fill="#777" text-anchor="end">0</text>
<rect x="54.9" y="839.5" width="30.2" height="92.0" fill="#118dff" />
<rect x="94.8" y="846.5" width="30.2" height="85.1" fill="#118dff" />
<rect x="134.8" y="887.8" width="30.2" height="43.8" fill="#118dff" />
<rect x="174.7" y="930.5" width="30.2" height="1.0" fill="#118dff" />
<text x="70.0" y="939.3" font-size="5" fill="#777" text-anchor="middle" textLength="19.0" lengthAdjust="spacingAndGlyphs">2025-01</text>
<text x="109.9" y="939.3" font-size="5" fill="#777" text-anchor="middle" textLength="19.0" lengthAdjust="spacingAndGlyphs">2025-02</text>
<text x="149.9" y="939.3" font-size="5" fill="#777" text-anchor="middle" textLength="19.0" lengthAdjust="spacingAndGlyphs">2025-03</text>
<text x="189.8" y="939.3" font-size="5" fill="#777" text-anchor="middle" textLength="19.0" lengthAdjust="spacingAndGlyphs">2025-12</text>
<text x="130.0" y="946.8" font-size="5.6" fill="#333" font-weight="bold" text-anchor="middle" textLength="17.5" lengthAdjust="spacingAndGlyphs">Month</text>
<text transform="translate(21.5,883.0) rotate(-90)" font-size="5.6" fill="#333" text-anchor="middle" font-weight="bold">ET</text>
<rect x="233.7" y="818.7" width="223.3" height="132.0" fill="#fff" />
<text x="236.5" y="825.5" font-size="6.6" fill="#262626" textLength="132.0" lengthAdjust="spacingAndGlyphs" stroke="#262626" stroke-width="0.14">Wind Direction and Wind Speed Patterns</text>
<text x="236.5" y="834.0" font-size="5" fill="#444" textLength="74.5" lengthAdjust="spacingAndGlyphs">(Location : All | February '25)</text>
<text x="446.6" y="844.8" font-size="13.5" fill="#666" text-anchor="end" textLength="53.8" lengthAdjust="spacingAndGlyphs">2/28/2025</text>
<line x1="257.3" y1="853.8" x2="450.0" y2="853.8" stroke="#c8c8c8" stroke-width="0.7" stroke-dasharray="0.8 2"/>
<text x="252.5" y="855.6" font-size="5" fill="#777" text-anchor="end">1</text>
<line x1="257.3" y1="894.8" x2="450.0" y2="894.8" stroke="#c8c8c8" stroke-width="0.7" stroke-dasharray="0.8 2"/>
<text x="252.5" y="896.6" font-size="5" fill="#777" text-anchor="end">0</text>
<line x1="257.3" y1="836.1" x2="257.3" y2="894.8" stroke="#c8c8c8" stroke-width="0.7" stroke-dasharray="0.8 2"/>
<text x="257.3" y="902.1" font-size="5" fill="#777" text-anchor="middle">0</text>
<line x1="326.4" y1="836.1" x2="326.4" y2="894.8" stroke="#c8c8c8" stroke-width="0.7" stroke-dasharray="0.8 2"/>
<text x="326.4" y="902.1" font-size="5" fill="#777" text-anchor="middle">50</text>
<line x1="395.9" y1="836.1" x2="395.9" y2="894.8" stroke="#c8c8c8" stroke-width="0.7" stroke-dasharray="0.8 2"/>
<text x="395.9" y="902.1" font-size="5" fill="#777" text-anchor="middle">100</text>
<text x="354.2" y="910.3" font-size="5.6" fill="#333" font-weight="bold" text-anchor="middle" textLength="73.0" lengthAdjust="spacingAndGlyphs">Frequency Wind Direction</text>
<text transform="translate(242.6,863.8) rotate(-90)" font-size="5.6" fill="#333" text-anchor="middle" font-weight="bold">Avg Wind Speed</text>
<text x="289.3" y="868.9" font-size="4.6" fill="#888" text-anchor="middle">SW</text>
<text x="264.2" y="871.0" font-size="4.6" fill="#888" text-anchor="middle">NNW</text>
<text x="284.0" y="859.9" font-size="4.6" fill="#888" text-anchor="middle">NNE</text>
<text x="277.1" y="867.9" font-size="4.6" fill="#888" text-anchor="middle">S</text>
<text x="284.0" y="877.6" font-size="4.6" fill="#888" text-anchor="middle">NW</text>
<text x="276.4" y="884.9" font-size="4.6" fill="#888" text-anchor="middle">SSW</text>
<text x="291.7" y="879.7" font-size="4.6" fill="#888" text-anchor="middle">SE</text>
<text x="304.2" y="879.7" font-size="4.6" fill="#888" text-anchor="middle">SSE</text>
<text x="299.7" y="868.2" font-size="4.6" fill="#888" text-anchor="middle">NE</text>
<text x="318.1" y="870.6" font-size="4.6" fill="#888" text-anchor="middle">ESE</text>
<text x="320.9" y="880.4" font-size="4.6" fill="#888" text-anchor="middle">W</text>
<text x="323.3" y="860.9" font-size="4.6" fill="#888" text-anchor="middle">WNW</text>
<text x="380.3" y="871.3" font-size="4.6" fill="#888" text-anchor="middle">E</text>
<circle cx="264.2" cy="862.1" r="2.3" fill="#dfb30f"/>
<circle cx="282.3" cy="859.7" r="2.3" fill="#6a0080"/>
<circle cx="283.4" cy="863.8" r="2.3" fill="#7d4fcf"/>
<circle cx="280.6" cy="866.3" r="2.3" fill="#217875"/>
<circle cx="282.3" cy="869.0" r="2.3" fill="#26b14c"/>
<circle cx="283.4" cy="872.5" r="2.3" fill="#f0a030"/>
<circle cx="276.4" cy="876.7" r="2.3" fill="#3d8bff"/>
<circle cx="291.7" cy="872.5" r="2.3" fill="#c4a6f5"/>
<circle cx="304.2" cy="871.1" r="2.3" fill="#1fc4f0"/>
<circle cx="308.4" cy="858.6" r="2.3" fill="#1c2aa0"/>
<circle cx="307.7" cy="865.6" r="2.3" fill="#e044a7"/>
<circle cx="311.8" cy="868.4" r="2.3" fill="#e8703a"/>
<circle cx="320.9" cy="871.5" r="2.3" fill="#c455cc"/>
<circle cx="324.0" cy="864.5" r="2.3" fill="#f67ad0"/>
<circle cx="380.3" cy="862.8" r="2.3" fill="#1e90ff"/>
<circle cx="246.8" cy="920.3" r="5.6" fill="#fff" stroke="#7a7a7a" stroke-width="0.9"/>
<polygon points="245.2,917.9 245.2,922.7 249.5,920.3" fill="#8a8a8a"/>
<rect x="257.3" y="917.5" width="190.0" height="6.9" fill="#f7f7f7" rx="1.5" stroke="#e2e2e2" stroke-width="0.7"/>
<rect x="446.0" y="915.3" width="2.6" height="11.4" fill="#fff" rx="1.2" stroke="#dcdcdc" stroke-width="0.6"/>
<line x1="257.6" y1="929" x2="257.6" y2="933" stroke="#666" stroke-width="0.7"/>
<line x1="264.6" y1="930.5" x2="264.6" y2="931.8" stroke="#aaa" stroke-width="0.7"/>
<line x1="271.5" y1="930.5" x2="271.5" y2="931.8" stroke="#aaa" stroke-width="0.7"/>
<line x1="278.5" y1="930.5" x2="278.5" y2="931.8" stroke="#aaa" stroke-width="0.7"/>
<line x1="285.5" y1="930.5" x2="285.5" y2="931.8" stroke="#aaa" stroke-width="0.7"/>
<line x1="292.5" y1="929" x2="292.5" y2="933" stroke="#666" stroke-width="0.7"/>
<line x1="299.4" y1="930.5" x2="299.4" y2="931.8" stroke="#aaa" stroke-width="0.7"/>
<line x1="306.4" y1="930.5" x2="306.4" y2="931.8" stroke="#aaa" stroke-width="0.7"/>
<line x1="313.4" y1="930.5" x2="313.4" y2="931.8" stroke="#aaa" stroke-width="0.7"/>
<line x1="320.3" y1="930.5" x2="320.3" y2="931.8" stroke="#aaa" stroke-width="0.7"/>
<line x1="327.3" y1="929" x2="327.3" y2="933" stroke="#666" stroke-width="0.7"/>
<line x1="334.3" y1="930.5" x2="334.3" y2="931.8" stroke="#aaa" stroke-width="0.7"/>
<line x1="341.2" y1="930.5" x2="341.2" y2="931.8" stroke="#aaa" stroke-width="0.7"/>
<line x1="348.2" y1="930.5" x2="348.2" y2="931.8" stroke="#aaa" stroke-width="0.7"/>
<line x1="355.2" y1="930.5" x2="355.2" y2="931.8" stroke="#aaa" stroke-width="0.7"/>
<line x1="362.2" y1="929" x2="362.2" y2="933" stroke="#666" stroke-width="0.7"/>
<line x1="369.1" y1="930.5" x2="369.1" y2="931.8" stroke="#aaa" stroke-width="0.7"/>
<line x1="376.1" y1="930.5" x2="376.1" y2="931.8" stroke="#aaa" stroke-width="0.7"/>
<line x1="383.1" y1="930.5" x2="383.1" y2="931.8" stroke="#aaa" stroke-width="0.7"/>
<line x1="390.0" y1="930.5" x2="390.0" y2="931.8" stroke="#aaa" stroke-width="0.7"/>
<line x1="397.0" y1="929" x2="397.0" y2="933" stroke="#666" stroke-width="0.7"/>
<line x1="404.0" y1="930.5" x2="404.0" y2="931.8" stroke="#aaa" stroke-width="0.7"/>
<line x1="410.9" y1="930.5" x2="410.9" y2="931.8" stroke="#aaa" stroke-width="0.7"/>
<line x1="417.9" y1="930.5" x2="417.9" y2="931.8" stroke="#aaa" stroke-width="0.7"/>
<line x1="424.9" y1="930.5" x2="424.9" y2="931.8" stroke="#aaa" stroke-width="0.7"/>
<line x1="431.9" y1="929" x2="431.9" y2="933" stroke="#666" stroke-width="0.7"/>
<line x1="438.8" y1="930.5" x2="438.8" y2="931.8" stroke="#aaa" stroke-width="0.7"/>
<line x1="445.8" y1="930.5" x2="445.8" y2="931.8" stroke="#aaa" stroke-width="0.7"/>
<text x="257.3" y="940.9" font-size="4.5" fill="#555" text-anchor="middle" textLength="18.0" lengthAdjust="spacingAndGlyphs">2/1/2025</text>
<text x="292.4" y="940.9" font-size="4.5" fill="#555" text-anchor="middle" textLength="18.0" lengthAdjust="spacingAndGlyphs">2/6/2025</text>
<text x="327.5" y="940.9" font-size="4.5" fill="#555" text-anchor="middle" textLength="20.0" lengthAdjust="spacingAndGlyphs">2/11/2025</text>
<text x="362.5" y="940.9" font-size="4.5" fill="#555" text-anchor="middle" textLength="20.0" lengthAdjust="spacingAndGlyphs">2/16/2025</text>
<text x="397.6" y="940.9" font-size="4.5" fill="#555" text-anchor="middle" textLength="20.0" lengthAdjust="spacingAndGlyphs">2/21/2025</text>
<text x="432.7" y="940.9" font-size="4.5" fill="#555" text-anchor="middle" textLength="20.0" lengthAdjust="spacingAndGlyphs">2/26/2025</text>
<rect x="6.0" y="955.5" width="105.0" height="12.0" fill="#1a7fc4" rx="5"/>
<rect x="122.0" y="955.5" width="104.0" height="12.0" fill="#1a7fc4" rx="5"/>
<rect x="237.0" y="955.5" width="104.0" height="12.0" fill="#1a7fc4" rx="5"/>
<rect x="352.0" y="955.5" width="104.0" height="12.0" fill="#1a7fc4" rx="5"/>
<rect x="468.0" y="955.5" width="104.0" height="12.0" fill="#1a7fc4" rx="5"/>
<rect x="583.0" y="955.5" width="117.0" height="12.0" fill="#1a7fc4" rx="5"/></svg>
</body></html>
